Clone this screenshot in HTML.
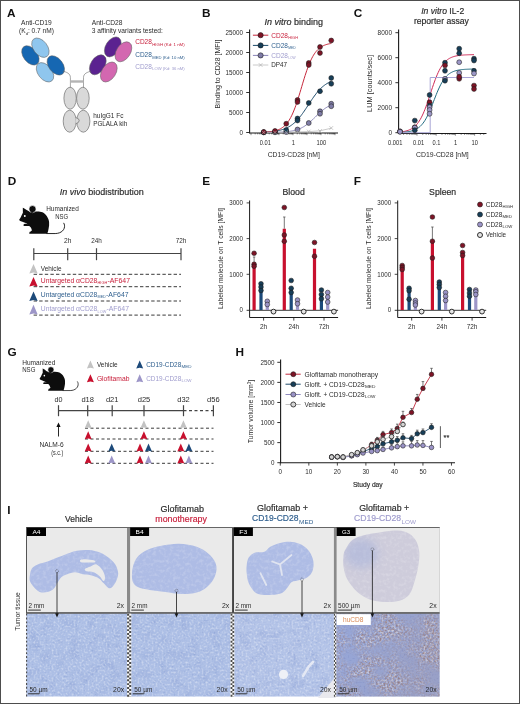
<!DOCTYPE html>
<html><head><meta charset="utf-8"><title>Figure</title>
<style>
html,body{margin:0;padding:0;background:#fff;}
body{width:520px;height:704px;overflow:hidden;}
svg{display:block;font-family:"Liberation Sans", sans-serif;filter:blur(0.3px);}
text{stroke-width:0.18px;paint-order:stroke;}
</style></head><body>
<svg width="520" height="704" viewBox="0 0 520 704">
<rect x="0" y="0" width="520" height="704" fill="#fff"/>
<text x="7.00" y="16.50" font-size="11.8" fill="#111" font-weight="bold">A</text>
<text x="201.90" y="16.60" font-size="11.8" fill="#111" font-weight="bold">B</text>
<text x="353.80" y="16.90" font-size="11.8" fill="#111" font-weight="bold">C</text>
<text x="7.70" y="185.00" font-size="11.8" fill="#111" font-weight="bold">D</text>
<text x="202.30" y="185.00" font-size="11.8" fill="#111" font-weight="bold">E</text>
<text x="353.80" y="185.00" font-size="11.8" fill="#111" font-weight="bold">F</text>
<text x="7.40" y="356.20" font-size="11.8" fill="#111" font-weight="bold">G</text>
<text x="235.40" y="356.20" font-size="11.8" fill="#111" font-weight="bold">H</text>
<text x="7.30" y="513.80" font-size="11.8" fill="#111" font-weight="bold">I</text>
<text x="36.40" y="25.40" font-size="6.6" fill="#2b2b2b" text-anchor="middle" textLength="30.7" lengthAdjust="spacingAndGlyphs">Anti-CD19</text>
<text x="36.50" y="33.30" font-size="6.6" fill="#2b2b2b" text-anchor="middle">(K<tspan font-size="4" dy="1.2">d</tspan><tspan dy="-1.2">: 0.7 nM)</tspan></text>
<text x="91.70" y="25.40" font-size="6.6" fill="#2b2b2b" textLength="30.8" lengthAdjust="spacingAndGlyphs">Anti-CD28</text>
<text x="91.70" y="33.00" font-size="6.6" fill="#2b2b2b" textLength="71.2" lengthAdjust="spacingAndGlyphs">3 affinity variants tested:</text>
<text x="135.20" y="44.20" font-size="6.6" fill="#c8203c" textLength="16.7" lengthAdjust="spacingAndGlyphs">CD28</text>
<text x="152.20" y="45.80" font-size="3.3" fill="#c8203c" textLength="32.5" lengthAdjust="spacingAndGlyphs">HIGH (Kd: 1 nM)</text>
<text x="135.20" y="56.90" font-size="6.6" fill="#2f5f8e" textLength="16.7" lengthAdjust="spacingAndGlyphs">CD28</text>
<text x="152.20" y="58.50" font-size="3.3" fill="#2f5f8e" textLength="32.5" lengthAdjust="spacingAndGlyphs">MED (Kd: 10 nM)</text>
<text x="135.20" y="68.70" font-size="6.6" fill="#9f9ccd" textLength="16.7" lengthAdjust="spacingAndGlyphs">CD28</text>
<text x="152.20" y="70.30" font-size="3.3" fill="#9f9ccd" textLength="32.5" lengthAdjust="spacingAndGlyphs">LOW (Kd: 36 nM)</text>
<ellipse cx="0" cy="0" rx="11" ry="7" transform="translate(30.40,55.40) rotate(52)" fill="#1667b2" stroke="#5e5e5e" stroke-width="0.5"/>
<ellipse cx="0" cy="0" rx="11" ry="7" transform="translate(40.40,47.70) rotate(52)" fill="#8fc6ee" stroke="#5e5e5e" stroke-width="0.5"/>
<ellipse cx="0" cy="0" rx="11" ry="7" transform="translate(45.00,72.30) rotate(52)" fill="#8fc6ee" stroke="#5e5e5e" stroke-width="0.5"/>
<ellipse cx="0" cy="0" rx="11" ry="7" transform="translate(55.80,65.40) rotate(52)" fill="#1667b2" stroke="#5e5e5e" stroke-width="0.5"/>
<ellipse cx="0" cy="0" rx="11" ry="7" transform="translate(112.80,46.90) rotate(-57)" fill="#5b2290" stroke="#5e5e5e" stroke-width="0.5"/>
<ellipse cx="0" cy="0" rx="11" ry="7" transform="translate(123.40,51.80) rotate(-57)" fill="#d367b0" stroke="#5e5e5e" stroke-width="0.5"/>
<ellipse cx="0" cy="0" rx="11" ry="7" transform="translate(97.80,64.80) rotate(-57)" fill="#5b2290" stroke="#5e5e5e" stroke-width="0.5"/>
<ellipse cx="0" cy="0" rx="11" ry="7" transform="translate(108.80,72.00) rotate(-57)" fill="#d367b0" stroke="#5e5e5e" stroke-width="0.5"/>
<path d="M62.7,71.2 C66.5,72 70.4,73.5 70.4,77.5 L70.4,88" fill="none" stroke="#6b6b6b" stroke-width="0.6"/>
<path d="M91.3,71.2 C87.5,72 83.5,73.5 83.5,77.5 L83.5,88" fill="none" stroke="#6b6b6b" stroke-width="0.6"/>
<rect x="70.4" y="80.3" width="13.1" height="2.4" fill="#b4b4b4"/>
<ellipse cx="70.1" cy="98.2" rx="6.2" ry="11" fill="#d9d9d9" stroke="#6e6e6e" stroke-width="0.7"/>
<ellipse cx="82.9" cy="98.2" rx="6.3" ry="11" fill="#d9d9d9" stroke="#6e6e6e" stroke-width="0.7"/>
<ellipse cx="69.7" cy="121.2" rx="6.5" ry="11" fill="#d9d9d9" stroke="#6e6e6e" stroke-width="0.7"/>
<ellipse cx="83.3" cy="121.2" rx="6.6" ry="11" fill="#d9d9d9" stroke="#6e6e6e" stroke-width="0.7"/>
<path d="M75.6,117.5 Q79.5,118.6 79.2,120.6 Q79.3,122.6 75.8,123.8" fill="#d9d9d9" stroke="#6e6e6e" stroke-width="0.7"/>
<text x="93.20" y="118.00" font-size="6.6" fill="#2b2b2b" textLength="30.2" lengthAdjust="spacingAndGlyphs">huIgG1 Fc</text>
<text x="93.20" y="126.00" font-size="6.6" fill="#2b2b2b" textLength="34.1" lengthAdjust="spacingAndGlyphs">PGLALA kih</text>
<text x="264.60" y="24.60" font-size="8.6" fill="#2b2b2b" stroke="#2b2b2b" textLength="58.4" lengthAdjust="spacingAndGlyphs"><tspan font-style="italic">In vitro</tspan> binding</text>
<line x1="249.60" y1="29.50" x2="249.60" y2="133.50" stroke="#1a1a1a" stroke-width="1.1"/>
<line x1="246.20" y1="132.50" x2="249.60" y2="132.50" stroke="#1a1a1a" stroke-width="0.9"/>
<text x="243.00" y="134.80" font-size="6.6" fill="#2b2b2b" text-anchor="end" textLength="3.5" lengthAdjust="spacingAndGlyphs">0</text>
<line x1="246.20" y1="112.50" x2="249.60" y2="112.50" stroke="#1a1a1a" stroke-width="0.9"/>
<text x="243.00" y="114.80" font-size="6.6" fill="#2b2b2b" text-anchor="end" textLength="14.0" lengthAdjust="spacingAndGlyphs">5000</text>
<line x1="246.20" y1="92.50" x2="249.60" y2="92.50" stroke="#1a1a1a" stroke-width="0.9"/>
<text x="243.00" y="94.80" font-size="6.6" fill="#2b2b2b" text-anchor="end" textLength="17.5" lengthAdjust="spacingAndGlyphs">10000</text>
<line x1="246.20" y1="72.50" x2="249.60" y2="72.50" stroke="#1a1a1a" stroke-width="0.9"/>
<text x="243.00" y="74.80" font-size="6.6" fill="#2b2b2b" text-anchor="end" textLength="17.5" lengthAdjust="spacingAndGlyphs">15000</text>
<line x1="246.20" y1="52.50" x2="249.60" y2="52.50" stroke="#1a1a1a" stroke-width="0.9"/>
<text x="243.00" y="54.80" font-size="6.6" fill="#2b2b2b" text-anchor="end" textLength="17.5" lengthAdjust="spacingAndGlyphs">20000</text>
<line x1="246.20" y1="32.50" x2="249.60" y2="32.50" stroke="#1a1a1a" stroke-width="0.9"/>
<text x="243.00" y="34.80" font-size="6.6" fill="#2b2b2b" text-anchor="end" textLength="17.5" lengthAdjust="spacingAndGlyphs">25000</text>
<line x1="249.60" y1="133.00" x2="338.00" y2="133.00" stroke="#1a1a1a" stroke-width="1.1"/>
<line x1="251.00" y1="133.00" x2="251.00" y2="135.20" stroke="#1a1a1a" stroke-width="0.5"/>
<line x1="255.21" y1="133.00" x2="255.21" y2="134.40" stroke="#1a1a1a" stroke-width="0.5"/>
<line x1="257.68" y1="133.00" x2="257.68" y2="134.40" stroke="#1a1a1a" stroke-width="0.5"/>
<line x1="259.43" y1="133.00" x2="259.43" y2="134.40" stroke="#1a1a1a" stroke-width="0.5"/>
<line x1="260.79" y1="133.00" x2="260.79" y2="134.40" stroke="#1a1a1a" stroke-width="0.5"/>
<line x1="261.89" y1="133.00" x2="261.89" y2="134.40" stroke="#1a1a1a" stroke-width="0.5"/>
<line x1="262.83" y1="133.00" x2="262.83" y2="134.40" stroke="#1a1a1a" stroke-width="0.5"/>
<line x1="263.64" y1="133.00" x2="263.64" y2="134.40" stroke="#1a1a1a" stroke-width="0.5"/>
<line x1="264.36" y1="133.00" x2="264.36" y2="134.40" stroke="#1a1a1a" stroke-width="0.5"/>
<line x1="265.00" y1="133.00" x2="265.00" y2="135.20" stroke="#1a1a1a" stroke-width="0.5"/>
<line x1="269.21" y1="133.00" x2="269.21" y2="134.40" stroke="#1a1a1a" stroke-width="0.5"/>
<line x1="271.68" y1="133.00" x2="271.68" y2="134.40" stroke="#1a1a1a" stroke-width="0.5"/>
<line x1="273.43" y1="133.00" x2="273.43" y2="134.40" stroke="#1a1a1a" stroke-width="0.5"/>
<line x1="274.79" y1="133.00" x2="274.79" y2="134.40" stroke="#1a1a1a" stroke-width="0.5"/>
<line x1="275.89" y1="133.00" x2="275.89" y2="134.40" stroke="#1a1a1a" stroke-width="0.5"/>
<line x1="276.83" y1="133.00" x2="276.83" y2="134.40" stroke="#1a1a1a" stroke-width="0.5"/>
<line x1="277.64" y1="133.00" x2="277.64" y2="134.40" stroke="#1a1a1a" stroke-width="0.5"/>
<line x1="278.36" y1="133.00" x2="278.36" y2="134.40" stroke="#1a1a1a" stroke-width="0.5"/>
<line x1="279.00" y1="133.00" x2="279.00" y2="135.20" stroke="#1a1a1a" stroke-width="0.5"/>
<line x1="283.21" y1="133.00" x2="283.21" y2="134.40" stroke="#1a1a1a" stroke-width="0.5"/>
<line x1="285.68" y1="133.00" x2="285.68" y2="134.40" stroke="#1a1a1a" stroke-width="0.5"/>
<line x1="287.43" y1="133.00" x2="287.43" y2="134.40" stroke="#1a1a1a" stroke-width="0.5"/>
<line x1="288.79" y1="133.00" x2="288.79" y2="134.40" stroke="#1a1a1a" stroke-width="0.5"/>
<line x1="289.89" y1="133.00" x2="289.89" y2="134.40" stroke="#1a1a1a" stroke-width="0.5"/>
<line x1="290.83" y1="133.00" x2="290.83" y2="134.40" stroke="#1a1a1a" stroke-width="0.5"/>
<line x1="291.64" y1="133.00" x2="291.64" y2="134.40" stroke="#1a1a1a" stroke-width="0.5"/>
<line x1="292.36" y1="133.00" x2="292.36" y2="134.40" stroke="#1a1a1a" stroke-width="0.5"/>
<line x1="293.00" y1="133.00" x2="293.00" y2="135.20" stroke="#1a1a1a" stroke-width="0.5"/>
<line x1="297.21" y1="133.00" x2="297.21" y2="134.40" stroke="#1a1a1a" stroke-width="0.5"/>
<line x1="299.68" y1="133.00" x2="299.68" y2="134.40" stroke="#1a1a1a" stroke-width="0.5"/>
<line x1="301.43" y1="133.00" x2="301.43" y2="134.40" stroke="#1a1a1a" stroke-width="0.5"/>
<line x1="302.79" y1="133.00" x2="302.79" y2="134.40" stroke="#1a1a1a" stroke-width="0.5"/>
<line x1="303.89" y1="133.00" x2="303.89" y2="134.40" stroke="#1a1a1a" stroke-width="0.5"/>
<line x1="304.83" y1="133.00" x2="304.83" y2="134.40" stroke="#1a1a1a" stroke-width="0.5"/>
<line x1="305.64" y1="133.00" x2="305.64" y2="134.40" stroke="#1a1a1a" stroke-width="0.5"/>
<line x1="306.36" y1="133.00" x2="306.36" y2="134.40" stroke="#1a1a1a" stroke-width="0.5"/>
<line x1="307.00" y1="133.00" x2="307.00" y2="135.20" stroke="#1a1a1a" stroke-width="0.5"/>
<line x1="311.21" y1="133.00" x2="311.21" y2="134.40" stroke="#1a1a1a" stroke-width="0.5"/>
<line x1="313.68" y1="133.00" x2="313.68" y2="134.40" stroke="#1a1a1a" stroke-width="0.5"/>
<line x1="315.43" y1="133.00" x2="315.43" y2="134.40" stroke="#1a1a1a" stroke-width="0.5"/>
<line x1="316.79" y1="133.00" x2="316.79" y2="134.40" stroke="#1a1a1a" stroke-width="0.5"/>
<line x1="317.89" y1="133.00" x2="317.89" y2="134.40" stroke="#1a1a1a" stroke-width="0.5"/>
<line x1="318.83" y1="133.00" x2="318.83" y2="134.40" stroke="#1a1a1a" stroke-width="0.5"/>
<line x1="319.64" y1="133.00" x2="319.64" y2="134.40" stroke="#1a1a1a" stroke-width="0.5"/>
<line x1="320.36" y1="133.00" x2="320.36" y2="134.40" stroke="#1a1a1a" stroke-width="0.5"/>
<line x1="321.00" y1="133.00" x2="321.00" y2="135.20" stroke="#1a1a1a" stroke-width="0.5"/>
<line x1="325.21" y1="133.00" x2="325.21" y2="134.40" stroke="#1a1a1a" stroke-width="0.5"/>
<line x1="327.68" y1="133.00" x2="327.68" y2="134.40" stroke="#1a1a1a" stroke-width="0.5"/>
<line x1="329.43" y1="133.00" x2="329.43" y2="134.40" stroke="#1a1a1a" stroke-width="0.5"/>
<line x1="330.79" y1="133.00" x2="330.79" y2="134.40" stroke="#1a1a1a" stroke-width="0.5"/>
<line x1="331.89" y1="133.00" x2="331.89" y2="134.40" stroke="#1a1a1a" stroke-width="0.5"/>
<line x1="332.83" y1="133.00" x2="332.83" y2="134.40" stroke="#1a1a1a" stroke-width="0.5"/>
<line x1="333.64" y1="133.00" x2="333.64" y2="134.40" stroke="#1a1a1a" stroke-width="0.5"/>
<line x1="334.36" y1="133.00" x2="334.36" y2="134.40" stroke="#1a1a1a" stroke-width="0.5"/>
<line x1="335.00" y1="133.00" x2="335.00" y2="135.20" stroke="#1a1a1a" stroke-width="0.5"/>
<text x="265.30" y="144.60" font-size="6.9" fill="#2b2b2b" text-anchor="middle" textLength="11.100000000000001" lengthAdjust="spacingAndGlyphs">0.01</text>
<text x="293.30" y="144.60" font-size="6.9" fill="#2b2b2b" text-anchor="middle" textLength="3.2" lengthAdjust="spacingAndGlyphs">1</text>
<text x="321.30" y="144.60" font-size="6.9" fill="#2b2b2b" text-anchor="middle" textLength="9.600000000000001" lengthAdjust="spacingAndGlyphs">100</text>
<text x="293.80" y="157.00" font-size="6.9" fill="#2b2b2b" text-anchor="middle" textLength="52.3" lengthAdjust="spacingAndGlyphs">CD19-CD28 [nM]</text>
<text transform="translate(220.15,74.00) rotate(-90)" font-size="7.0" fill="#2b2b2b" text-anchor="middle" textLength="69" lengthAdjust="spacingAndGlyphs">Binding to CD28 [MFI]</text>
<path d="M263.75,132.45L264.59,132.45L265.44,132.44L266.28,132.44L267.12,132.43L267.97,132.42L268.81,132.41L269.66,132.40L270.50,132.39L271.34,132.38L272.19,132.37L273.03,132.35L273.88,132.34L274.72,132.32L275.56,132.30L276.41,132.27L277.25,132.25L278.09,132.22L278.94,132.19L279.78,132.15L280.62,132.12L281.47,132.07L282.31,132.03L283.16,131.97L284.00,131.92L284.84,131.85L285.69,131.78L286.53,131.70L287.38,131.61L288.22,131.52L289.06,131.41L289.91,131.29L290.75,131.16L291.59,131.02L292.44,130.86L293.28,130.69L294.12,130.50L294.97,130.29L295.81,130.06L296.66,129.81L297.50,129.54L298.34,129.24L299.19,128.92L300.03,128.57L300.88,128.19L301.72,127.77L302.56,127.33L303.41,126.86L304.25,126.35L305.09,125.80L305.94,125.23L306.78,124.62L307.62,123.97L308.47,123.30L309.31,122.59L310.16,121.86L311.00,121.10L311.84,120.32L312.69,119.52L313.53,118.70L314.38,117.88L315.22,117.05L316.06,116.22L316.91,115.40L317.75,114.58L318.59,113.77L319.44,112.99L320.28,112.22L321.12,111.48L321.97,110.76L322.81,110.07L323.66,109.42L324.50,108.79L325.34,108.21L326.19,107.65L327.03,107.13L327.88,106.64L328.72,106.19L329.56,105.76L330.41,105.37L331.25,105.01" fill="none" stroke="#8a86b8" stroke-width="1.0"/>
<path d="M263.75,132.12L264.59,132.08L265.44,132.04L266.28,131.99L267.12,131.94L267.97,131.89L268.81,131.83L269.66,131.76L270.50,131.69L271.34,131.61L272.19,131.53L273.03,131.43L273.88,131.33L274.72,131.22L275.56,131.10L276.41,130.96L277.25,130.81L278.09,130.65L278.94,130.48L279.78,130.29L280.62,130.08L281.47,129.85L282.31,129.61L283.16,129.34L284.00,129.05L284.84,128.73L285.69,128.38L286.53,128.01L287.38,127.61L288.22,127.18L289.06,126.71L289.91,126.20L290.75,125.66L291.59,125.08L292.44,124.45L293.28,123.79L294.12,123.08L294.97,122.32L295.81,121.52L296.66,120.67L297.50,119.77L298.34,118.83L299.19,117.84L300.03,116.81L300.88,115.74L301.72,114.62L302.56,113.47L303.41,112.29L304.25,111.07L305.09,109.83L305.94,108.57L306.78,107.29L307.62,106.00L308.47,104.71L309.31,103.42L310.16,102.14L311.00,100.87L311.84,99.61L312.69,98.38L313.53,97.17L314.38,96.00L315.22,94.86L316.06,93.77L316.91,92.71L317.75,91.69L318.59,90.72L319.44,89.80L320.28,88.92L321.12,88.09L321.97,87.31L322.81,86.57L323.66,85.87L324.50,85.22L325.34,84.62L326.19,84.05L327.03,83.52L327.88,83.03L328.72,82.58L329.56,82.15L330.41,81.76L331.25,81.40" fill="none" stroke="#1d4b6b" stroke-width="1.0"/>
<path d="M263.75,132.18L264.59,132.14L265.44,132.09L266.28,132.03L267.12,131.97L267.97,131.90L268.81,131.82L269.66,131.73L270.50,131.63L271.34,131.51L272.19,131.38L273.03,131.24L273.88,131.07L274.72,130.88L275.56,130.67L276.41,130.43L277.25,130.15L278.09,129.85L278.94,129.50L279.78,129.12L280.62,128.68L281.47,128.19L282.31,127.64L283.16,127.03L284.00,126.35L284.84,125.58L285.69,124.73L286.53,123.79L287.38,122.75L288.22,121.59L289.06,120.33L289.91,118.94L290.75,117.42L291.59,115.77L292.44,113.98L293.28,112.06L294.12,109.99L294.97,107.80L295.81,105.48L296.66,103.03L297.50,100.48L298.34,97.83L299.19,95.10L300.03,92.32L300.88,89.50L301.72,86.66L302.56,83.83L303.41,81.02L304.25,78.27L305.09,75.58L305.94,72.99L306.78,70.49L307.62,68.12L308.47,65.86L309.31,63.74L310.16,61.76L311.00,59.91L311.84,58.20L312.69,56.62L313.53,55.18L314.38,53.86L315.22,52.65L316.06,51.56L316.91,50.58L317.75,49.69L318.59,48.88L319.44,48.17L320.28,47.52L321.12,46.95L321.97,46.43L322.81,45.97L323.66,45.56L324.50,45.20L325.34,44.88L326.19,44.59L327.03,44.34L327.88,44.11L328.72,43.91L329.56,43.74L330.41,43.58L331.25,43.44" fill="none" stroke="#c6283c" stroke-width="1.0"/>
<path d="M263.75,132.4 L286,132.2 L309,131.6 L320,130.8 L331.25,128.2" fill="none" stroke="#bdbdbd" stroke-width="0.8"/>
<circle cx="263.75" cy="132.30" r="2.45" fill="#7f7ca6" stroke="#1a1a1a" stroke-width="0.55"/>
<circle cx="275.00" cy="132.30" r="2.45" fill="#7f7ca6" stroke="#1a1a1a" stroke-width="0.55"/>
<circle cx="286.25" cy="132.00" r="2.45" fill="#7f7ca6" stroke="#1a1a1a" stroke-width="0.55"/>
<circle cx="297.50" cy="129.50" r="2.45" fill="#7f7ca6" stroke="#1a1a1a" stroke-width="0.55"/>
<circle cx="308.75" cy="123.00" r="2.45" fill="#7f7ca6" stroke="#1a1a1a" stroke-width="0.55"/>
<circle cx="320.00" cy="111.25" r="2.45" fill="#7f7ca6" stroke="#1a1a1a" stroke-width="0.55"/>
<circle cx="320.00" cy="113.75" r="2.45" fill="#7f7ca6" stroke="#1a1a1a" stroke-width="0.55"/>
<circle cx="331.25" cy="103.75" r="2.45" fill="#7f7ca6" stroke="#1a1a1a" stroke-width="0.55"/>
<circle cx="331.25" cy="106.25" r="2.45" fill="#7f7ca6" stroke="#1a1a1a" stroke-width="0.55"/>
<circle cx="263.75" cy="132.30" r="2.45" fill="#173e58" stroke="#1a1a1a" stroke-width="0.55"/>
<circle cx="275.00" cy="131.50" r="2.45" fill="#173e58" stroke="#1a1a1a" stroke-width="0.55"/>
<circle cx="286.25" cy="130.00" r="2.45" fill="#173e58" stroke="#1a1a1a" stroke-width="0.55"/>
<circle cx="297.50" cy="118.50" r="2.45" fill="#173e58" stroke="#1a1a1a" stroke-width="0.55"/>
<circle cx="297.50" cy="120.50" r="2.45" fill="#173e58" stroke="#1a1a1a" stroke-width="0.55"/>
<circle cx="308.75" cy="103.00" r="2.45" fill="#173e58" stroke="#1a1a1a" stroke-width="0.55"/>
<circle cx="320.00" cy="91.25" r="2.45" fill="#173e58" stroke="#1a1a1a" stroke-width="0.55"/>
<circle cx="331.25" cy="78.00" r="2.45" fill="#173e58" stroke="#1a1a1a" stroke-width="0.55"/>
<circle cx="331.25" cy="83.75" r="2.45" fill="#173e58" stroke="#1a1a1a" stroke-width="0.55"/>
<circle cx="263.75" cy="132.00" r="2.45" fill="#7d1426" stroke="#1a1a1a" stroke-width="0.55"/>
<circle cx="275.00" cy="131.00" r="2.45" fill="#7d1426" stroke="#1a1a1a" stroke-width="0.55"/>
<circle cx="286.25" cy="123.75" r="2.45" fill="#7d1426" stroke="#1a1a1a" stroke-width="0.55"/>
<circle cx="297.50" cy="100.00" r="2.45" fill="#7d1426" stroke="#1a1a1a" stroke-width="0.55"/>
<circle cx="297.50" cy="102.00" r="2.45" fill="#7d1426" stroke="#1a1a1a" stroke-width="0.55"/>
<circle cx="308.75" cy="63.00" r="2.45" fill="#7d1426" stroke="#1a1a1a" stroke-width="0.55"/>
<circle cx="308.75" cy="65.00" r="2.45" fill="#7d1426" stroke="#1a1a1a" stroke-width="0.55"/>
<circle cx="320.00" cy="47.00" r="2.45" fill="#7d1426" stroke="#1a1a1a" stroke-width="0.55"/>
<circle cx="320.00" cy="53.00" r="2.45" fill="#7d1426" stroke="#1a1a1a" stroke-width="0.55"/>
<circle cx="331.25" cy="40.50" r="2.45" fill="#7d1426" stroke="#1a1a1a" stroke-width="0.55"/>
<line x1="261.95" y1="130.70" x2="265.55" y2="134.30" stroke="#b0b0b0" stroke-width="0.7"/>
<line x1="261.95" y1="134.30" x2="265.55" y2="130.70" stroke="#b0b0b0" stroke-width="0.7"/>
<line x1="273.20" y1="130.70" x2="276.80" y2="134.30" stroke="#b0b0b0" stroke-width="0.7"/>
<line x1="273.20" y1="134.30" x2="276.80" y2="130.70" stroke="#b0b0b0" stroke-width="0.7"/>
<line x1="284.45" y1="130.50" x2="288.05" y2="134.10" stroke="#b0b0b0" stroke-width="0.7"/>
<line x1="284.45" y1="134.10" x2="288.05" y2="130.50" stroke="#b0b0b0" stroke-width="0.7"/>
<line x1="295.70" y1="130.20" x2="299.30" y2="133.80" stroke="#b0b0b0" stroke-width="0.7"/>
<line x1="295.70" y1="133.80" x2="299.30" y2="130.20" stroke="#b0b0b0" stroke-width="0.7"/>
<line x1="306.95" y1="129.70" x2="310.55" y2="133.30" stroke="#b0b0b0" stroke-width="0.7"/>
<line x1="306.95" y1="133.30" x2="310.55" y2="129.70" stroke="#b0b0b0" stroke-width="0.7"/>
<line x1="318.20" y1="129.20" x2="321.80" y2="132.80" stroke="#b0b0b0" stroke-width="0.7"/>
<line x1="318.20" y1="132.80" x2="321.80" y2="129.20" stroke="#b0b0b0" stroke-width="0.7"/>
<line x1="329.45" y1="126.20" x2="333.05" y2="129.80" stroke="#b0b0b0" stroke-width="0.7"/>
<line x1="329.45" y1="129.80" x2="333.05" y2="126.20" stroke="#b0b0b0" stroke-width="0.7"/>
<line x1="252.90" y1="35.20" x2="268.30" y2="35.20" stroke="#c6283c" stroke-width="1.0"/>
<circle cx="260.60" cy="35.20" r="2.6" fill="#7d1426" stroke="#1a1a1a" stroke-width="0.55"/>
<text x="271.30" y="37.60" font-size="6.7" fill="#c8203c" textLength="16.7" lengthAdjust="spacingAndGlyphs">CD28</text>
<text x="288.20" y="38.80" font-size="3.4" fill="#c8203c" textLength="9.8" lengthAdjust="spacingAndGlyphs">HIGH</text>
<line x1="252.90" y1="45.40" x2="268.30" y2="45.40" stroke="#1d4b6b" stroke-width="1.0"/>
<circle cx="260.60" cy="45.40" r="2.6" fill="#173e58" stroke="#1a1a1a" stroke-width="0.55"/>
<text x="271.30" y="47.80" font-size="6.7" fill="#2f5f8e" textLength="16.7" lengthAdjust="spacingAndGlyphs">CD28</text>
<text x="288.20" y="49.00" font-size="3.4" fill="#2f5f8e" textLength="7.3500000000000005" lengthAdjust="spacingAndGlyphs">MED</text>
<line x1="252.90" y1="55.40" x2="268.30" y2="55.40" stroke="#8a86b8" stroke-width="1.0"/>
<circle cx="260.60" cy="55.40" r="2.6" fill="#7f7ca6" stroke="#1a1a1a" stroke-width="0.55"/>
<text x="271.30" y="57.80" font-size="6.7" fill="#9f9ccd" textLength="16.7" lengthAdjust="spacingAndGlyphs">CD28</text>
<text x="288.20" y="59.00" font-size="3.4" fill="#9f9ccd" textLength="7.3500000000000005" lengthAdjust="spacingAndGlyphs">LOW</text>
<line x1="252.90" y1="65.00" x2="268.30" y2="65.00" stroke="#c4c4c4" stroke-width="0.9"/>
<line x1="258.80" y1="63.20" x2="262.40" y2="66.80" stroke="#b0b0b0" stroke-width="0.7"/>
<line x1="258.80" y1="66.80" x2="262.40" y2="63.20" stroke="#b0b0b0" stroke-width="0.7"/>
<text x="271.30" y="67.40" font-size="6.7" fill="#2b2b2b" textLength="15.8" lengthAdjust="spacingAndGlyphs">DP47</text>
<text x="442.70" y="13.50" font-size="8.6" fill="#2b2b2b" stroke="#2b2b2b" text-anchor="middle" textLength="43.0" lengthAdjust="spacingAndGlyphs"><tspan font-style="italic">In vitro</tspan> IL-2</text>
<text x="441.40" y="23.90" font-size="8.6" fill="#2b2b2b" stroke="#2b2b2b" text-anchor="middle" textLength="55.0" lengthAdjust="spacingAndGlyphs">reporter assay</text>
<line x1="398.60" y1="29.50" x2="398.60" y2="134.00" stroke="#1a1a1a" stroke-width="1.1"/>
<line x1="395.40" y1="132.70" x2="398.60" y2="132.70" stroke="#1a1a1a" stroke-width="0.9"/>
<text x="392.00" y="135.00" font-size="6.6" fill="#2b2b2b" text-anchor="end" textLength="3.6" lengthAdjust="spacingAndGlyphs">0</text>
<line x1="395.40" y1="107.70" x2="398.60" y2="107.70" stroke="#1a1a1a" stroke-width="0.9"/>
<text x="392.00" y="110.00" font-size="6.6" fill="#2b2b2b" text-anchor="end" textLength="14.4" lengthAdjust="spacingAndGlyphs">2000</text>
<line x1="395.40" y1="82.70" x2="398.60" y2="82.70" stroke="#1a1a1a" stroke-width="0.9"/>
<text x="392.00" y="85.00" font-size="6.6" fill="#2b2b2b" text-anchor="end" textLength="14.4" lengthAdjust="spacingAndGlyphs">4000</text>
<line x1="395.40" y1="57.70" x2="398.60" y2="57.70" stroke="#1a1a1a" stroke-width="0.9"/>
<text x="392.00" y="60.00" font-size="6.6" fill="#2b2b2b" text-anchor="end" textLength="14.4" lengthAdjust="spacingAndGlyphs">6000</text>
<line x1="395.40" y1="32.70" x2="398.60" y2="32.70" stroke="#1a1a1a" stroke-width="0.9"/>
<text x="392.00" y="35.00" font-size="6.6" fill="#2b2b2b" text-anchor="end" textLength="14.4" lengthAdjust="spacingAndGlyphs">8000</text>
<line x1="398.60" y1="133.50" x2="486.50" y2="133.50" stroke="#1a1a1a" stroke-width="1.1"/>
<line x1="403.58" y1="133.50" x2="403.58" y2="134.90" stroke="#1a1a1a" stroke-width="0.5"/>
<line x1="406.96" y1="133.50" x2="406.96" y2="134.90" stroke="#1a1a1a" stroke-width="0.5"/>
<line x1="409.36" y1="133.50" x2="409.36" y2="134.90" stroke="#1a1a1a" stroke-width="0.5"/>
<line x1="411.22" y1="133.50" x2="411.22" y2="134.90" stroke="#1a1a1a" stroke-width="0.5"/>
<line x1="412.74" y1="133.50" x2="412.74" y2="134.90" stroke="#1a1a1a" stroke-width="0.5"/>
<line x1="414.03" y1="133.50" x2="414.03" y2="134.90" stroke="#1a1a1a" stroke-width="0.5"/>
<line x1="415.14" y1="133.50" x2="415.14" y2="134.90" stroke="#1a1a1a" stroke-width="0.5"/>
<line x1="416.12" y1="133.50" x2="416.12" y2="134.90" stroke="#1a1a1a" stroke-width="0.5"/>
<line x1="417.00" y1="133.50" x2="417.00" y2="135.70" stroke="#1a1a1a" stroke-width="0.5"/>
<line x1="422.78" y1="133.50" x2="422.78" y2="134.90" stroke="#1a1a1a" stroke-width="0.5"/>
<line x1="426.16" y1="133.50" x2="426.16" y2="134.90" stroke="#1a1a1a" stroke-width="0.5"/>
<line x1="428.56" y1="133.50" x2="428.56" y2="134.90" stroke="#1a1a1a" stroke-width="0.5"/>
<line x1="430.42" y1="133.50" x2="430.42" y2="134.90" stroke="#1a1a1a" stroke-width="0.5"/>
<line x1="431.94" y1="133.50" x2="431.94" y2="134.90" stroke="#1a1a1a" stroke-width="0.5"/>
<line x1="433.23" y1="133.50" x2="433.23" y2="134.90" stroke="#1a1a1a" stroke-width="0.5"/>
<line x1="434.34" y1="133.50" x2="434.34" y2="134.90" stroke="#1a1a1a" stroke-width="0.5"/>
<line x1="435.32" y1="133.50" x2="435.32" y2="134.90" stroke="#1a1a1a" stroke-width="0.5"/>
<line x1="436.20" y1="133.50" x2="436.20" y2="135.70" stroke="#1a1a1a" stroke-width="0.5"/>
<line x1="441.98" y1="133.50" x2="441.98" y2="134.90" stroke="#1a1a1a" stroke-width="0.5"/>
<line x1="445.36" y1="133.50" x2="445.36" y2="134.90" stroke="#1a1a1a" stroke-width="0.5"/>
<line x1="447.76" y1="133.50" x2="447.76" y2="134.90" stroke="#1a1a1a" stroke-width="0.5"/>
<line x1="449.62" y1="133.50" x2="449.62" y2="134.90" stroke="#1a1a1a" stroke-width="0.5"/>
<line x1="451.14" y1="133.50" x2="451.14" y2="134.90" stroke="#1a1a1a" stroke-width="0.5"/>
<line x1="452.43" y1="133.50" x2="452.43" y2="134.90" stroke="#1a1a1a" stroke-width="0.5"/>
<line x1="453.54" y1="133.50" x2="453.54" y2="134.90" stroke="#1a1a1a" stroke-width="0.5"/>
<line x1="454.52" y1="133.50" x2="454.52" y2="134.90" stroke="#1a1a1a" stroke-width="0.5"/>
<line x1="455.40" y1="133.50" x2="455.40" y2="135.70" stroke="#1a1a1a" stroke-width="0.5"/>
<line x1="461.18" y1="133.50" x2="461.18" y2="134.90" stroke="#1a1a1a" stroke-width="0.5"/>
<line x1="464.56" y1="133.50" x2="464.56" y2="134.90" stroke="#1a1a1a" stroke-width="0.5"/>
<line x1="466.96" y1="133.50" x2="466.96" y2="134.90" stroke="#1a1a1a" stroke-width="0.5"/>
<line x1="468.82" y1="133.50" x2="468.82" y2="134.90" stroke="#1a1a1a" stroke-width="0.5"/>
<line x1="470.34" y1="133.50" x2="470.34" y2="134.90" stroke="#1a1a1a" stroke-width="0.5"/>
<line x1="471.63" y1="133.50" x2="471.63" y2="134.90" stroke="#1a1a1a" stroke-width="0.5"/>
<line x1="472.74" y1="133.50" x2="472.74" y2="134.90" stroke="#1a1a1a" stroke-width="0.5"/>
<line x1="473.72" y1="133.50" x2="473.72" y2="134.90" stroke="#1a1a1a" stroke-width="0.5"/>
<line x1="474.60" y1="133.50" x2="474.60" y2="135.70" stroke="#1a1a1a" stroke-width="0.5"/>
<line x1="480.38" y1="133.50" x2="480.38" y2="134.90" stroke="#1a1a1a" stroke-width="0.5"/>
<line x1="483.76" y1="133.50" x2="483.76" y2="134.90" stroke="#1a1a1a" stroke-width="0.5"/>
<text x="395.20" y="144.80" font-size="6.9" fill="#2b2b2b" text-anchor="middle" textLength="14.3" lengthAdjust="spacingAndGlyphs">0.001</text>
<text x="418.60" y="144.80" font-size="6.9" fill="#2b2b2b" text-anchor="middle" textLength="11.100000000000001" lengthAdjust="spacingAndGlyphs">0.01</text>
<text x="436.40" y="144.80" font-size="6.9" fill="#2b2b2b" text-anchor="middle" textLength="7.9" lengthAdjust="spacingAndGlyphs">0.1</text>
<text x="455.60" y="144.80" font-size="6.9" fill="#2b2b2b" text-anchor="middle" textLength="3.2" lengthAdjust="spacingAndGlyphs">1</text>
<text x="474.80" y="144.80" font-size="6.9" fill="#2b2b2b" text-anchor="middle" textLength="6.4" lengthAdjust="spacingAndGlyphs">10</text>
<text x="442.40" y="157.00" font-size="6.9" fill="#2b2b2b" text-anchor="middle" textLength="52.8" lengthAdjust="spacingAndGlyphs">CD19-CD28 [nM]</text>
<text transform="translate(371.92,83.40) rotate(-90)" font-size="7.2" fill="#2b2b2b" text-anchor="middle" textLength="57" lengthAdjust="spacingAndGlyphs">LUM [counts/sec]</text>
<path d="M398.50,132.16L399.44,132.08L400.39,131.98L401.33,131.87L402.27,131.74L403.22,131.59L404.16,131.42L405.11,131.22L406.05,130.99L406.99,130.73L407.94,130.42L408.88,130.07L409.82,129.67L410.77,129.21L411.71,128.69L412.66,128.09L413.60,127.41L414.54,126.64L415.49,125.76L416.43,124.77L417.38,123.66L418.32,122.42L419.26,121.03L420.21,119.49L421.15,117.80L422.09,115.94L423.04,113.93L423.98,111.75L424.93,109.42L425.87,106.94L426.81,104.34L427.76,101.63L428.70,98.84L429.64,96.00L430.59,93.13L431.53,90.26L432.48,87.43L433.42,84.67L434.36,82.00L435.31,79.44L436.25,77.01L437.19,74.74L438.14,72.62L439.08,70.65L440.02,68.86L440.97,67.22L441.91,65.74L442.86,64.40L443.80,63.21L444.74,62.14L445.69,61.19L446.63,60.35L447.57,59.61L448.52,58.96L449.46,58.39L450.41,57.89L451.35,57.45L452.29,57.07L453.24,56.74L454.18,56.45L455.12,56.20L456.07,55.98L457.01,55.79L457.96,55.63L458.90,55.49L459.84,55.36L460.79,55.26L461.73,55.16L462.68,55.08L463.62,55.01L464.56,54.95L465.51,54.90L466.45,54.86L467.39,54.82L468.34,54.79L469.28,54.76L470.23,54.73L471.17,54.71L472.11,54.69L473.06,54.68L474.00,54.66" fill="none" stroke="#cf2a57" stroke-width="1.0"/>
<path d="M398.50,132.49L399.44,132.46L400.39,132.42L401.33,132.37L402.27,132.32L403.22,132.25L404.16,132.18L405.11,132.09L406.05,131.99L406.99,131.88L407.94,131.75L408.88,131.59L409.82,131.41L410.77,131.20L411.71,130.96L412.66,130.69L413.60,130.37L414.54,130.00L415.49,129.57L416.43,129.09L417.38,128.53L418.32,127.89L419.26,127.17L420.21,126.35L421.15,125.42L422.09,124.37L423.04,123.20L423.98,121.90L424.93,120.46L425.87,118.88L426.81,117.15L427.76,115.29L428.70,113.29L429.64,111.16L430.59,108.94L431.53,106.62L432.48,104.23L433.42,101.81L434.36,99.38L435.31,96.96L436.25,94.59L437.19,92.28L438.14,90.07L439.08,87.97L440.02,86.00L440.97,84.16L441.91,82.46L442.86,80.91L443.80,79.49L444.74,78.22L445.69,77.07L446.63,76.05L447.57,75.14L448.52,74.34L449.46,73.63L450.41,73.01L451.35,72.47L452.29,71.99L453.24,71.58L454.18,71.22L455.12,70.91L456.07,70.64L457.01,70.40L457.96,70.20L458.90,70.03L459.84,69.88L460.79,69.75L461.73,69.64L462.68,69.54L463.62,69.46L464.56,69.39L465.51,69.32L466.45,69.27L467.39,69.23L468.34,69.19L469.28,69.15L470.23,69.12L471.17,69.10L472.11,69.08L473.06,69.06L474.00,69.04" fill="none" stroke="#1f6a80" stroke-width="1.0"/>
<path d="M399,132.7 L430.2,132.7 L430.2,77.5 L474,77.5" fill="none" stroke="#a9a5d6" stroke-width="1.0"/>
<circle cx="400.00" cy="131.40" r="2.45" fill="#173e58" stroke="#1a1a1a" stroke-width="0.55"/>
<circle cx="400.00" cy="131.40" r="2.45" fill="#7d1426" stroke="#1a1a1a" stroke-width="0.55"/>
<circle cx="400.00" cy="131.80" r="2.45" fill="#9d98c8" stroke="#1a1a1a" stroke-width="0.55"/>
<circle cx="414.80" cy="120.60" r="2.45" fill="#173e58" stroke="#1a1a1a" stroke-width="0.55"/>
<circle cx="414.80" cy="127.30" r="2.45" fill="#7d1426" stroke="#1a1a1a" stroke-width="0.55"/>
<circle cx="414.80" cy="127.60" r="2.45" fill="#9d98c8" stroke="#1a1a1a" stroke-width="0.55"/>
<circle cx="414.80" cy="130.20" r="2.45" fill="#173e58" stroke="#1a1a1a" stroke-width="0.55"/>
<circle cx="429.60" cy="95.00" r="2.45" fill="#173e58" stroke="#1a1a1a" stroke-width="0.55"/>
<circle cx="429.60" cy="102.30" r="2.45" fill="#7d1426" stroke="#1a1a1a" stroke-width="0.55"/>
<circle cx="429.60" cy="105.80" r="2.45" fill="#173e58" stroke="#1a1a1a" stroke-width="0.55"/>
<circle cx="429.60" cy="107.20" r="2.45" fill="#9d98c8" stroke="#1a1a1a" stroke-width="0.55"/>
<circle cx="429.60" cy="110.00" r="2.45" fill="#9d98c8" stroke="#1a1a1a" stroke-width="0.55"/>
<circle cx="429.60" cy="113.80" r="2.45" fill="#9d98c8" stroke="#1a1a1a" stroke-width="0.55"/>
<circle cx="445.00" cy="62.70" r="2.45" fill="#173e58" stroke="#1a1a1a" stroke-width="0.55"/>
<circle cx="445.00" cy="65.40" r="2.45" fill="#7d1426" stroke="#1a1a1a" stroke-width="0.55"/>
<circle cx="445.00" cy="70.80" r="2.45" fill="#173e58" stroke="#1a1a1a" stroke-width="0.55"/>
<circle cx="445.00" cy="78.80" r="2.45" fill="#9d98c8" stroke="#1a1a1a" stroke-width="0.55"/>
<circle cx="445.00" cy="80.70" r="2.45" fill="#173e58" stroke="#1a1a1a" stroke-width="0.55"/>
<circle cx="459.20" cy="48.70" r="2.45" fill="#173e58" stroke="#1a1a1a" stroke-width="0.55"/>
<circle cx="459.20" cy="53.30" r="2.45" fill="#173e58" stroke="#1a1a1a" stroke-width="0.55"/>
<circle cx="459.20" cy="62.20" r="2.45" fill="#9d98c8" stroke="#1a1a1a" stroke-width="0.55"/>
<circle cx="459.20" cy="72.90" r="2.45" fill="#9d98c8" stroke="#1a1a1a" stroke-width="0.55"/>
<circle cx="459.20" cy="78.80" r="2.45" fill="#7d1426" stroke="#1a1a1a" stroke-width="0.55"/>
<circle cx="459.20" cy="76.80" r="2.45" fill="#7d1426" stroke="#1a1a1a" stroke-width="0.55"/>
<circle cx="474.00" cy="58.70" r="2.45" fill="#173e58" stroke="#1a1a1a" stroke-width="0.55"/>
<circle cx="474.00" cy="60.50" r="2.45" fill="#173e58" stroke="#1a1a1a" stroke-width="0.55"/>
<circle cx="474.00" cy="70.80" r="2.45" fill="#173e58" stroke="#1a1a1a" stroke-width="0.55"/>
<circle cx="474.00" cy="73.50" r="2.45" fill="#9d98c8" stroke="#1a1a1a" stroke-width="0.55"/>
<circle cx="474.00" cy="85.60" r="2.45" fill="#7d1426" stroke="#1a1a1a" stroke-width="0.55"/>
<circle cx="474.00" cy="89.00" r="2.45" fill="#7d1426" stroke="#1a1a1a" stroke-width="0.55"/>
<g transform="translate(19.2,219.6) scale(1.0)">
<path d="M0,0 C0.8,-1.2 1.9,-2.6 2.1,-3.7 C2.6,-5 3.3,-6 3.7,-6.9 L3.6,-11.9 C5.2,-11.2 6.7,-10.3 7.4,-9.5 C8.5,-8.9 9.4,-8.4 10.05,-8.15 C10.8,-7.6 11.2,-7.3 11.64,-7.09 C13.5,-7.9 15,-8.2 16.93,-8.15 C19.5,-8.2 21.6,-8.1 23.28,-7.41 C25.2,-6.5 26.6,-5.2 27.51,-3.7 C29,-1.5 29.8,0.6 29.9,2.65 C30.1,5 29.9,7 29.42,8.99 C29.1,10.8 28.7,12.6 28.04,14.07 L10.05,14.07 C10,13.2 10.2,12.6 10.58,12.17 C11.2,11.5 12,11 12.7,10.58 C12.4,9.6 12.1,8.7 11.64,7.94 C11.2,7.2 10.6,6.7 10.05,6.35 L6.35,6.35 C5.4,6.3 4.6,6.2 4.23,5.82 C4.1,5.2 4.3,4.8 4.76,4.55 C5.4,4.3 6.1,4.2 6.88,4.23 L8.47,4.55 C7.6,3.9 6.7,3.5 5.82,3.17 C4.9,2.8 4,2.5 3.17,2.12 C2.2,1.8 1.2,1.5 0.53,1.06 Z" fill="#0d0d0d"/>
<circle cx="13.3" cy="-10.5" r="3.55" fill="#0d0d0d" stroke="#fff" stroke-width="0.6"/>
<path d="M11.3,-7.6 C12.3,-7.3 13.2,-7.4 14,-7.9" fill="none" stroke="#0d0d0d" stroke-width="1.2"/>
<circle cx="5.6" cy="-3.6" r="0.95" fill="#fff"/>
<path d="M27.6,13.95 L36,13.95 C39,13.9 41.6,13 43.3,11.3 C44.9,9.8 45.6,7.6 45.3,5.6 C45.2,4.8 44.9,4.1 44.6,3.6" fill="none" stroke="#0d0d0d" stroke-width="0.9" stroke-linecap="round"/>
<path d="M12.6,10.7 C11.5,11.2 10.8,11.9 10.5,12.6" fill="none" stroke="#fff" stroke-width="0.5"/>
</g>
<text x="59.80" y="195.00" font-size="8.8" fill="#2b2b2b" stroke="#2b2b2b" textLength="84" lengthAdjust="spacingAndGlyphs"><tspan font-style="italic">In vivo</tspan> biodistribution</text>
<text x="62.50" y="211.00" font-size="6.4" fill="#2b2b2b" text-anchor="middle" textLength="32.6" lengthAdjust="spacingAndGlyphs">Humanized</text>
<text x="61.60" y="218.70" font-size="6.4" fill="#2b2b2b" text-anchor="middle" textLength="12.9" lengthAdjust="spacingAndGlyphs">NSG</text>
<line x1="33.80" y1="253.50" x2="181.00" y2="253.50" stroke="#444" stroke-width="1.2"/>
<line x1="33.80" y1="248.20" x2="33.80" y2="260.20" stroke="#444" stroke-width="1.2"/>
<line x1="67.70" y1="248.20" x2="67.70" y2="260.20" stroke="#444" stroke-width="1.2"/>
<line x1="96.50" y1="248.20" x2="96.50" y2="260.20" stroke="#444" stroke-width="1.2"/>
<line x1="181.00" y1="248.20" x2="181.00" y2="260.20" stroke="#444" stroke-width="1.2"/>
<text x="67.80" y="243.10" font-size="6.7" fill="#2b2b2b" text-anchor="middle" textLength="7.4" lengthAdjust="spacingAndGlyphs">2h</text>
<text x="96.60" y="243.10" font-size="6.7" fill="#2b2b2b" text-anchor="middle" textLength="10.6" lengthAdjust="spacingAndGlyphs">24h</text>
<text x="181.00" y="243.10" font-size="6.7" fill="#2b2b2b" text-anchor="middle" textLength="10.6" lengthAdjust="spacingAndGlyphs">72h</text>
<line x1="33.60" y1="274.30" x2="181.00" y2="274.30" stroke="#3a3a3a" stroke-width="1.0" stroke-dasharray="3.4,2.2"/>
<path d="M33.50,264.00 L37.70,273.60 L33.50,272.60 L29.30,273.60 Z" fill="#c3c3c3"/>
<text x="40.80" y="271.10" font-size="6.6" fill="#2b2b2b" textLength="20.7" lengthAdjust="spacingAndGlyphs">Vehicle</text>
<line x1="33.60" y1="286.70" x2="181.00" y2="286.70" stroke="#3a3a3a" stroke-width="1.0" stroke-dasharray="3.4,2.2"/>
<path d="M33.50,276.90 L37.70,286.50 L33.50,285.50 L29.30,286.50 Z" fill="#c8102e"/>
<text x="40.80" y="282.80" font-size="6.6" fill="#c8203c" textLength="56.5" lengthAdjust="spacingAndGlyphs">Untargeted αCD28</text>
<text x="97.60" y="284.10" font-size="3.6" fill="#c8203c" textLength="9.6" lengthAdjust="spacingAndGlyphs">HIGH</text>
<text x="107.40" y="282.80" font-size="6.6" fill="#c8203c" textLength="22.6" lengthAdjust="spacingAndGlyphs">-AF647</text>
<line x1="33.60" y1="301.00" x2="181.00" y2="301.00" stroke="#3a3a3a" stroke-width="1.0" stroke-dasharray="3.4,2.2"/>
<path d="M33.50,291.40 L37.70,301.00 L33.50,300.00 L29.30,301.00 Z" fill="#1d4a7a"/>
<text x="40.80" y="297.00" font-size="6.6" fill="#2f5f8e" textLength="56.5" lengthAdjust="spacingAndGlyphs">Untargeted αCD28</text>
<text x="97.60" y="298.30" font-size="3.6" fill="#2f5f8e" textLength="8.2" lengthAdjust="spacingAndGlyphs">MED</text>
<text x="106.00" y="297.00" font-size="6.6" fill="#2f5f8e" textLength="22.6" lengthAdjust="spacingAndGlyphs">-AF647</text>
<line x1="33.60" y1="315.10" x2="181.00" y2="315.10" stroke="#3a3a3a" stroke-width="1.0" stroke-dasharray="3.4,2.2"/>
<path d="M33.50,304.80 L37.70,314.40 L33.50,313.40 L29.30,314.40 Z" fill="#9d96c8"/>
<text x="40.80" y="311.30" font-size="6.6" fill="#9f9ccd" textLength="56.5" lengthAdjust="spacingAndGlyphs">Untargeted αCD28</text>
<text x="97.60" y="312.60" font-size="3.6" fill="#9f9ccd" textLength="8.6" lengthAdjust="spacingAndGlyphs">LOW</text>
<text x="106.40" y="311.30" font-size="6.6" fill="#9f9ccd" textLength="22.6" lengthAdjust="spacingAndGlyphs">-AF647</text>
<text x="282.50" y="194.90" font-size="8.4" fill="#2b2b2b" stroke="#2b2b2b" textLength="22.3" lengthAdjust="spacingAndGlyphs">Blood</text>
<line x1="249.60" y1="200.50" x2="249.60" y2="317.50" stroke="#1a1a1a" stroke-width="1.0"/>
<line x1="246.60" y1="310.30" x2="338.10" y2="310.30" stroke="#222" stroke-width="0.9"/>
<line x1="249.60" y1="317.50" x2="338.10" y2="317.50" stroke="#1a1a1a" stroke-width="1.0"/>
<line x1="246.60" y1="274.30" x2="249.60" y2="274.30" stroke="#1a1a1a" stroke-width="0.8"/>
<text x="243.00" y="276.60" font-size="6.6" fill="#2b2b2b" text-anchor="end" textLength="13.8" lengthAdjust="spacingAndGlyphs">1000</text>
<line x1="246.60" y1="238.60" x2="249.60" y2="238.60" stroke="#1a1a1a" stroke-width="0.8"/>
<text x="243.00" y="240.90" font-size="6.6" fill="#2b2b2b" text-anchor="end" textLength="13.8" lengthAdjust="spacingAndGlyphs">2000</text>
<line x1="246.60" y1="202.90" x2="249.60" y2="202.90" stroke="#1a1a1a" stroke-width="0.8"/>
<text x="243.00" y="205.20" font-size="6.6" fill="#2b2b2b" text-anchor="end" textLength="13.8" lengthAdjust="spacingAndGlyphs">3000</text>
<text x="243.00" y="312.30" font-size="6.6" fill="#2b2b2b" text-anchor="end" textLength="3.45" lengthAdjust="spacingAndGlyphs">0</text>
<line x1="263.60" y1="317.50" x2="263.60" y2="320.60" stroke="#1a1a1a" stroke-width="0.8"/>
<text x="263.60" y="328.80" font-size="6.4" fill="#2b2b2b" text-anchor="middle" textLength="7.2" lengthAdjust="spacingAndGlyphs">2h</text>
<line x1="293.80" y1="317.50" x2="293.80" y2="320.60" stroke="#1a1a1a" stroke-width="0.8"/>
<text x="293.80" y="328.80" font-size="6.4" fill="#2b2b2b" text-anchor="middle" textLength="10.6" lengthAdjust="spacingAndGlyphs">24h</text>
<line x1="324.00" y1="317.50" x2="324.00" y2="320.60" stroke="#1a1a1a" stroke-width="0.8"/>
<text x="324.00" y="328.80" font-size="6.4" fill="#2b2b2b" text-anchor="middle" textLength="10.6" lengthAdjust="spacingAndGlyphs">72h</text>
<rect x="252.50" y="262.50" width="3.2" height="47.50" fill="#c8102e"/>
<line x1="254.10" y1="257.00" x2="254.10" y2="262.50" stroke="#555" stroke-width="0.8"/>
<line x1="252.90" y1="257.00" x2="255.30" y2="257.00" stroke="#555" stroke-width="0.8"/>
<circle cx="254.10" cy="253.25" r="2.35" fill="#7d1426" stroke="#1a1a1a" stroke-width="0.55"/>
<circle cx="254.10" cy="264.25" r="2.35" fill="#7d1426" stroke="#1a1a1a" stroke-width="0.55"/>
<circle cx="254.10" cy="266.25" r="2.35" fill="#7d1426" stroke="#1a1a1a" stroke-width="0.55"/>
<rect x="259.40" y="285.00" width="3.2" height="25.00" fill="#1d4a7a"/>
<circle cx="261.00" cy="283.75" r="2.35" fill="#173e58" stroke="#1a1a1a" stroke-width="0.55"/>
<circle cx="261.00" cy="287.00" r="2.35" fill="#173e58" stroke="#1a1a1a" stroke-width="0.55"/>
<circle cx="261.00" cy="290.50" r="2.35" fill="#173e58" stroke="#1a1a1a" stroke-width="0.55"/>
<rect x="265.70" y="302.50" width="3.2" height="7.50" fill="#9d96c8"/>
<circle cx="267.30" cy="301.25" r="2.35" fill="#9a93c6" stroke="#1a1a1a" stroke-width="0.55"/>
<circle cx="267.30" cy="304.50" r="2.35" fill="#9a93c6" stroke="#1a1a1a" stroke-width="0.55"/>
<circle cx="273.50" cy="311.60" r="2.4" fill="#e4e4e4" stroke="#1a1a1a" stroke-width="0.9"/>
<rect x="282.70" y="228.75" width="3.2" height="81.25" fill="#c8102e"/>
<line x1="284.30" y1="217.00" x2="284.30" y2="228.75" stroke="#555" stroke-width="0.8"/>
<line x1="283.10" y1="217.00" x2="285.50" y2="217.00" stroke="#555" stroke-width="0.8"/>
<circle cx="284.30" cy="207.50" r="2.35" fill="#7d1426" stroke="#1a1a1a" stroke-width="0.55"/>
<circle cx="284.30" cy="235.00" r="2.35" fill="#7d1426" stroke="#1a1a1a" stroke-width="0.55"/>
<circle cx="284.30" cy="241.25" r="2.35" fill="#7d1426" stroke="#1a1a1a" stroke-width="0.55"/>
<rect x="289.60" y="287.50" width="3.2" height="22.50" fill="#1d4a7a"/>
<circle cx="291.20" cy="280.50" r="2.35" fill="#173e58" stroke="#1a1a1a" stroke-width="0.55"/>
<circle cx="291.20" cy="288.25" r="2.35" fill="#173e58" stroke="#1a1a1a" stroke-width="0.55"/>
<circle cx="291.20" cy="292.50" r="2.35" fill="#173e58" stroke="#1a1a1a" stroke-width="0.55"/>
<rect x="295.90" y="301.50" width="3.2" height="8.50" fill="#9d96c8"/>
<circle cx="297.50" cy="300.00" r="2.35" fill="#9a93c6" stroke="#1a1a1a" stroke-width="0.55"/>
<circle cx="297.50" cy="303.75" r="2.35" fill="#9a93c6" stroke="#1a1a1a" stroke-width="0.55"/>
<circle cx="303.70" cy="311.60" r="2.4" fill="#e4e4e4" stroke="#1a1a1a" stroke-width="0.9"/>
<rect x="312.90" y="248.75" width="3.2" height="61.25" fill="#c8102e"/>
<circle cx="314.50" cy="242.50" r="2.35" fill="#7d1426" stroke="#1a1a1a" stroke-width="0.55"/>
<circle cx="314.50" cy="256.25" r="2.35" fill="#7d1426" stroke="#1a1a1a" stroke-width="0.55"/>
<rect x="319.80" y="293.50" width="3.2" height="16.50" fill="#1d4a7a"/>
<circle cx="321.40" cy="290.00" r="2.35" fill="#173e58" stroke="#1a1a1a" stroke-width="0.55"/>
<circle cx="321.40" cy="294.50" r="2.35" fill="#173e58" stroke="#1a1a1a" stroke-width="0.55"/>
<circle cx="321.40" cy="298.75" r="2.35" fill="#173e58" stroke="#1a1a1a" stroke-width="0.55"/>
<rect x="326.10" y="296.50" width="3.2" height="13.50" fill="#9d96c8"/>
<circle cx="327.70" cy="292.50" r="2.35" fill="#9a93c6" stroke="#1a1a1a" stroke-width="0.55"/>
<circle cx="327.70" cy="297.00" r="2.35" fill="#9a93c6" stroke="#1a1a1a" stroke-width="0.55"/>
<circle cx="327.70" cy="302.00" r="2.35" fill="#9a93c6" stroke="#1a1a1a" stroke-width="0.55"/>
<circle cx="333.90" cy="311.60" r="2.4" fill="#e4e4e4" stroke="#1a1a1a" stroke-width="0.9"/>
<text transform="translate(222.58,258.50) rotate(-90)" font-size="6.8" fill="#2b2b2b" text-anchor="middle" textLength="101" lengthAdjust="spacingAndGlyphs">Labeled molecule on T cells [MFI]</text>
<text x="429.10" y="194.90" font-size="8.4" fill="#2b2b2b" stroke="#2b2b2b" textLength="27.0" lengthAdjust="spacingAndGlyphs">Spleen</text>
<line x1="397.70" y1="200.50" x2="397.70" y2="317.50" stroke="#1a1a1a" stroke-width="1.0"/>
<line x1="394.70" y1="310.30" x2="486.20" y2="310.30" stroke="#222" stroke-width="0.9"/>
<line x1="397.70" y1="317.50" x2="486.20" y2="317.50" stroke="#1a1a1a" stroke-width="1.0"/>
<line x1="394.70" y1="274.30" x2="397.70" y2="274.30" stroke="#1a1a1a" stroke-width="0.8"/>
<text x="391.10" y="276.60" font-size="6.6" fill="#2b2b2b" text-anchor="end" textLength="13.8" lengthAdjust="spacingAndGlyphs">1000</text>
<line x1="394.70" y1="238.60" x2="397.70" y2="238.60" stroke="#1a1a1a" stroke-width="0.8"/>
<text x="391.10" y="240.90" font-size="6.6" fill="#2b2b2b" text-anchor="end" textLength="13.8" lengthAdjust="spacingAndGlyphs">2000</text>
<line x1="394.70" y1="202.90" x2="397.70" y2="202.90" stroke="#1a1a1a" stroke-width="0.8"/>
<text x="391.10" y="205.20" font-size="6.6" fill="#2b2b2b" text-anchor="end" textLength="13.8" lengthAdjust="spacingAndGlyphs">3000</text>
<text x="391.10" y="312.30" font-size="6.6" fill="#2b2b2b" text-anchor="end" textLength="3.45" lengthAdjust="spacingAndGlyphs">0</text>
<line x1="411.70" y1="317.50" x2="411.70" y2="320.60" stroke="#1a1a1a" stroke-width="0.8"/>
<text x="411.70" y="328.80" font-size="6.4" fill="#2b2b2b" text-anchor="middle" textLength="7.2" lengthAdjust="spacingAndGlyphs">2h</text>
<line x1="441.90" y1="317.50" x2="441.90" y2="320.60" stroke="#1a1a1a" stroke-width="0.8"/>
<text x="441.90" y="328.80" font-size="6.4" fill="#2b2b2b" text-anchor="middle" textLength="10.6" lengthAdjust="spacingAndGlyphs">24h</text>
<line x1="472.10" y1="317.50" x2="472.10" y2="320.60" stroke="#1a1a1a" stroke-width="0.8"/>
<text x="472.10" y="328.80" font-size="6.4" fill="#2b2b2b" text-anchor="middle" textLength="10.6" lengthAdjust="spacingAndGlyphs">72h</text>
<rect x="400.60" y="267.50" width="3.2" height="42.50" fill="#c8102e"/>
<circle cx="402.20" cy="265.50" r="2.35" fill="#7d1426" stroke="#1a1a1a" stroke-width="0.55"/>
<circle cx="402.20" cy="267.50" r="2.35" fill="#7d1426" stroke="#1a1a1a" stroke-width="0.55"/>
<circle cx="402.20" cy="269.50" r="2.35" fill="#7d1426" stroke="#1a1a1a" stroke-width="0.55"/>
<rect x="407.50" y="288.75" width="3.2" height="21.25" fill="#1d4a7a"/>
<circle cx="409.10" cy="288.25" r="2.35" fill="#173e58" stroke="#1a1a1a" stroke-width="0.55"/>
<circle cx="409.10" cy="290.75" r="2.35" fill="#173e58" stroke="#1a1a1a" stroke-width="0.55"/>
<circle cx="409.10" cy="299.25" r="2.35" fill="#173e58" stroke="#1a1a1a" stroke-width="0.55"/>
<rect x="413.80" y="301.25" width="3.2" height="8.75" fill="#9d96c8"/>
<circle cx="415.40" cy="300.50" r="2.35" fill="#9a93c6" stroke="#1a1a1a" stroke-width="0.55"/>
<circle cx="415.40" cy="303.00" r="2.35" fill="#9a93c6" stroke="#1a1a1a" stroke-width="0.55"/>
<circle cx="415.40" cy="305.00" r="2.35" fill="#9a93c6" stroke="#1a1a1a" stroke-width="0.55"/>
<circle cx="421.60" cy="311.60" r="2.4" fill="#e4e4e4" stroke="#1a1a1a" stroke-width="0.9"/>
<rect x="430.80" y="242.50" width="3.2" height="67.50" fill="#c8102e"/>
<line x1="432.40" y1="227.00" x2="432.40" y2="242.50" stroke="#555" stroke-width="0.8"/>
<line x1="431.20" y1="227.00" x2="433.60" y2="227.00" stroke="#555" stroke-width="0.8"/>
<circle cx="432.40" cy="217.00" r="2.35" fill="#7d1426" stroke="#1a1a1a" stroke-width="0.55"/>
<circle cx="432.40" cy="241.25" r="2.35" fill="#7d1426" stroke="#1a1a1a" stroke-width="0.55"/>
<circle cx="432.40" cy="258.00" r="2.35" fill="#7d1426" stroke="#1a1a1a" stroke-width="0.55"/>
<rect x="437.70" y="284.50" width="3.2" height="25.50" fill="#1d4a7a"/>
<circle cx="439.30" cy="282.00" r="2.35" fill="#173e58" stroke="#1a1a1a" stroke-width="0.55"/>
<circle cx="439.30" cy="284.50" r="2.35" fill="#173e58" stroke="#1a1a1a" stroke-width="0.55"/>
<circle cx="439.30" cy="287.50" r="2.35" fill="#173e58" stroke="#1a1a1a" stroke-width="0.55"/>
<rect x="444.00" y="296.25" width="3.2" height="13.75" fill="#9d96c8"/>
<circle cx="445.60" cy="292.50" r="2.35" fill="#9a93c6" stroke="#1a1a1a" stroke-width="0.55"/>
<circle cx="445.60" cy="296.25" r="2.35" fill="#9a93c6" stroke="#1a1a1a" stroke-width="0.55"/>
<circle cx="445.60" cy="300.50" r="2.35" fill="#9a93c6" stroke="#1a1a1a" stroke-width="0.55"/>
<circle cx="451.80" cy="311.60" r="2.4" fill="#e4e4e4" stroke="#1a1a1a" stroke-width="0.9"/>
<rect x="461.00" y="253.00" width="3.2" height="57.00" fill="#c8102e"/>
<circle cx="462.60" cy="245.50" r="2.35" fill="#7d1426" stroke="#1a1a1a" stroke-width="0.55"/>
<circle cx="462.60" cy="252.50" r="2.35" fill="#7d1426" stroke="#1a1a1a" stroke-width="0.55"/>
<circle cx="462.60" cy="255.50" r="2.35" fill="#7d1426" stroke="#1a1a1a" stroke-width="0.55"/>
<rect x="467.90" y="293.00" width="3.2" height="17.00" fill="#1d4a7a"/>
<circle cx="469.50" cy="289.50" r="2.35" fill="#173e58" stroke="#1a1a1a" stroke-width="0.55"/>
<circle cx="469.50" cy="293.00" r="2.35" fill="#173e58" stroke="#1a1a1a" stroke-width="0.55"/>
<circle cx="469.50" cy="296.25" r="2.35" fill="#173e58" stroke="#1a1a1a" stroke-width="0.55"/>
<rect x="474.20" y="291.75" width="3.2" height="18.25" fill="#9d96c8"/>
<circle cx="475.80" cy="290.00" r="2.35" fill="#9a93c6" stroke="#1a1a1a" stroke-width="0.55"/>
<circle cx="475.80" cy="291.75" r="2.35" fill="#9a93c6" stroke="#1a1a1a" stroke-width="0.55"/>
<circle cx="475.80" cy="294.50" r="2.35" fill="#9a93c6" stroke="#1a1a1a" stroke-width="0.55"/>
<circle cx="482.00" cy="311.60" r="2.4" fill="#e4e4e4" stroke="#1a1a1a" stroke-width="0.9"/>
<text transform="translate(370.78,258.50) rotate(-90)" font-size="6.8" fill="#2b2b2b" text-anchor="middle" textLength="101" lengthAdjust="spacingAndGlyphs">Labeled molecule on T cells [MFI]</text>
<circle cx="480.00" cy="204.50" r="2.5" fill="#7d1426" stroke="#1a1a1a" stroke-width="0.55"/>
<text x="485.70" y="206.90" font-size="6.6" fill="#2b2b2b" textLength="16.6" lengthAdjust="spacingAndGlyphs">CD28</text>
<text x="502.50" y="208.20" font-size="4.0" fill="#2b2b2b" textLength="10.5" lengthAdjust="spacingAndGlyphs">HIGH</text>
<circle cx="480.00" cy="214.50" r="2.5" fill="#173e58" stroke="#1a1a1a" stroke-width="0.55"/>
<text x="485.70" y="216.90" font-size="6.6" fill="#2b2b2b" textLength="16.6" lengthAdjust="spacingAndGlyphs">CD28</text>
<text x="502.50" y="218.20" font-size="4.0" fill="#2b2b2b" textLength="9.5" lengthAdjust="spacingAndGlyphs">MED</text>
<circle cx="480.00" cy="224.50" r="2.5" fill="#9a93c6" stroke="#1a1a1a" stroke-width="0.55"/>
<text x="485.70" y="226.90" font-size="6.6" fill="#2b2b2b" textLength="16.6" lengthAdjust="spacingAndGlyphs">CD28</text>
<text x="502.50" y="228.20" font-size="4.0" fill="#2b2b2b" textLength="9.8" lengthAdjust="spacingAndGlyphs">LOW</text>
<circle cx="480.00" cy="235.00" r="2.5" fill="#e4e4e4" stroke="#1a1a1a" stroke-width="0.9"/>
<text x="485.70" y="237.40" font-size="6.6" fill="#2b2b2b" textLength="20.4" lengthAdjust="spacingAndGlyphs">Vehicle</text>
<g transform="translate(39.6,378.7) scale(0.85)">
<path d="M0,0 C0.8,-1.2 1.9,-2.6 2.1,-3.7 C2.6,-5 3.3,-6 3.7,-6.9 L3.6,-11.9 C5.2,-11.2 6.7,-10.3 7.4,-9.5 C8.5,-8.9 9.4,-8.4 10.05,-8.15 C10.8,-7.6 11.2,-7.3 11.64,-7.09 C13.5,-7.9 15,-8.2 16.93,-8.15 C19.5,-8.2 21.6,-8.1 23.28,-7.41 C25.2,-6.5 26.6,-5.2 27.51,-3.7 C29,-1.5 29.8,0.6 29.9,2.65 C30.1,5 29.9,7 29.42,8.99 C29.1,10.8 28.7,12.6 28.04,14.07 L10.05,14.07 C10,13.2 10.2,12.6 10.58,12.17 C11.2,11.5 12,11 12.7,10.58 C12.4,9.6 12.1,8.7 11.64,7.94 C11.2,7.2 10.6,6.7 10.05,6.35 L6.35,6.35 C5.4,6.3 4.6,6.2 4.23,5.82 C4.1,5.2 4.3,4.8 4.76,4.55 C5.4,4.3 6.1,4.2 6.88,4.23 L8.47,4.55 C7.6,3.9 6.7,3.5 5.82,3.17 C4.9,2.8 4,2.5 3.17,2.12 C2.2,1.8 1.2,1.5 0.53,1.06 Z" fill="#0d0d0d"/>
<circle cx="13.3" cy="-10.5" r="3.55" fill="#0d0d0d" stroke="#fff" stroke-width="0.6"/>
<path d="M11.3,-7.6 C12.3,-7.3 13.2,-7.4 14,-7.9" fill="none" stroke="#0d0d0d" stroke-width="1.2"/>
<circle cx="5.6" cy="-3.6" r="0.95" fill="#fff"/>
<path d="M27.6,13.95 L36,13.95 C39,13.9 41.6,13 43.3,11.3 C44.9,9.8 45.6,7.6 45.3,5.6 C45.2,4.8 44.9,4.1 44.6,3.6" fill="none" stroke="#0d0d0d" stroke-width="0.9" stroke-linecap="round"/>
<path d="M12.6,10.7 C11.5,11.2 10.8,11.9 10.5,12.6" fill="none" stroke="#fff" stroke-width="0.5"/>
</g>
<text x="22.20" y="364.70" font-size="6.4" fill="#2b2b2b" textLength="33.2" lengthAdjust="spacingAndGlyphs">Humanized</text>
<text x="22.20" y="372.20" font-size="6.4" fill="#2b2b2b" textLength="13.2" lengthAdjust="spacingAndGlyphs">NSG</text>
<path d="M90.40,360.50 L93.90,368.50 L90.40,367.70 L86.90,368.50 Z" fill="#c3c3c3"/>
<text x="96.90" y="366.90" font-size="6.6" fill="#2b2b2b" textLength="20.8" lengthAdjust="spacingAndGlyphs">Vehicle</text>
<path d="M90.40,374.20 L93.90,382.20 L90.40,381.40 L86.90,382.20 Z" fill="#c8102e"/>
<text x="96.90" y="380.60" font-size="6.6" fill="#c8203c" textLength="32.5" lengthAdjust="spacingAndGlyphs">Glofitamab</text>
<path d="M139.70,360.50 L143.20,368.50 L139.70,367.70 L136.20,368.50 Z" fill="#1d4a7a"/>
<text x="146.20" y="366.90" font-size="6.6" fill="#2f5f8e" textLength="35.1" lengthAdjust="spacingAndGlyphs">CD19-CD28</text>
<text x="181.40" y="368.30" font-size="4.0" fill="#2f5f8e" textLength="10.0" lengthAdjust="spacingAndGlyphs">MED</text>
<path d="M139.70,374.20 L143.20,382.20 L139.70,381.40 L136.20,382.20 Z" fill="#9d96c8"/>
<text x="146.20" y="380.60" font-size="6.6" fill="#9f9ccd" textLength="35.1" lengthAdjust="spacingAndGlyphs">CD19-CD28</text>
<text x="181.40" y="382.00" font-size="4.0" fill="#9f9ccd" textLength="10.2" lengthAdjust="spacingAndGlyphs">LOW</text>
<line x1="58.50" y1="410.60" x2="183.50" y2="410.60" stroke="#444" stroke-width="1.2"/>
<line x1="183.50" y1="410.60" x2="214.00" y2="410.60" stroke="#444" stroke-width="1.2" stroke-dasharray="3.0,2.5"/>
<line x1="58.50" y1="405.20" x2="58.50" y2="416.20" stroke="#444" stroke-width="1.2"/>
<text x="58.50" y="402.20" font-size="6.9" fill="#2b2b2b" text-anchor="middle" textLength="8.0" lengthAdjust="spacingAndGlyphs">d0</text>
<line x1="87.70" y1="405.20" x2="87.70" y2="416.20" stroke="#444" stroke-width="1.2"/>
<text x="87.70" y="402.20" font-size="6.9" fill="#2b2b2b" text-anchor="middle" textLength="12.6" lengthAdjust="spacingAndGlyphs">d18</text>
<line x1="112.20" y1="405.20" x2="112.20" y2="416.20" stroke="#444" stroke-width="1.2"/>
<text x="112.20" y="402.20" font-size="6.9" fill="#2b2b2b" text-anchor="middle" textLength="12.6" lengthAdjust="spacingAndGlyphs">d21</text>
<line x1="144.00" y1="405.20" x2="144.00" y2="416.20" stroke="#444" stroke-width="1.2"/>
<text x="144.00" y="402.20" font-size="6.9" fill="#2b2b2b" text-anchor="middle" textLength="12.6" lengthAdjust="spacingAndGlyphs">d25</text>
<line x1="183.50" y1="405.20" x2="183.50" y2="416.20" stroke="#444" stroke-width="1.2"/>
<text x="183.50" y="402.20" font-size="6.9" fill="#2b2b2b" text-anchor="middle" textLength="12.6" lengthAdjust="spacingAndGlyphs">d32</text>
<line x1="213.40" y1="405.20" x2="213.40" y2="416.20" stroke="#444" stroke-width="1.2"/>
<text x="213.40" y="402.20" font-size="6.9" fill="#2b2b2b" text-anchor="middle" textLength="12.6" lengthAdjust="spacingAndGlyphs">d56</text>
<line x1="58.50" y1="436.50" x2="58.50" y2="425.50" stroke="#111" stroke-width="0.9"/>
<path d="M58.5,422.6 L56.4,427.0 L60.6,427.0 Z" fill="#111"/>
<text x="63.70" y="446.90" font-size="6.6" fill="#2b2b2b" text-anchor="end" textLength="24.2" lengthAdjust="spacingAndGlyphs">NALM-6</text>
<text x="63.40" y="455.20" font-size="6.6" fill="#2b2b2b" text-anchor="end" textLength="12.1" lengthAdjust="spacingAndGlyphs">(s.c.)</text>
<line x1="85.00" y1="428.20" x2="213.50" y2="428.20" stroke="#3a3a3a" stroke-width="1.0" stroke-dasharray="3.0,2.5"/>
<path d="M88.20,420.30 L91.70,428.30 L88.20,427.50 L84.70,428.30 Z" fill="#c3c3c3"/>
<path d="M143.90,420.30 L147.40,428.30 L143.90,427.50 L140.40,428.30 Z" fill="#c3c3c3"/>
<path d="M183.40,420.30 L186.90,428.30 L183.40,427.50 L179.90,428.30 Z" fill="#c3c3c3"/>
<line x1="85.00" y1="439.00" x2="213.50" y2="439.00" stroke="#3a3a3a" stroke-width="1.0" stroke-dasharray="3.0,2.5"/>
<path d="M88.20,431.30 L91.70,439.30 L88.20,438.50 L84.70,439.30 Z" fill="#c8102e"/>
<path d="M143.90,431.30 L147.40,439.30 L143.90,438.50 L140.40,439.30 Z" fill="#c8102e"/>
<path d="M183.40,431.30 L186.90,439.30 L183.40,438.50 L179.90,439.30 Z" fill="#c8102e"/>
<line x1="85.00" y1="451.30" x2="213.50" y2="451.30" stroke="#3a3a3a" stroke-width="1.0" stroke-dasharray="3.0,2.5"/>
<path d="M88.20,443.60 L91.70,451.60 L88.20,450.80 L84.70,451.60 Z" fill="#c8102e"/>
<path d="M111.70,443.60 L115.20,451.60 L111.70,450.80 L108.20,451.60 Z" fill="#1d4a7a"/>
<path d="M140.00,443.60 L143.50,451.60 L140.00,450.80 L136.50,451.60 Z" fill="#c8102e"/>
<path d="M148.50,443.60 L152.00,451.60 L148.50,450.80 L145.00,451.60 Z" fill="#1d4a7a"/>
<path d="M180.80,443.60 L184.30,451.60 L180.80,450.80 L177.30,451.60 Z" fill="#c8102e"/>
<path d="M188.90,443.60 L192.40,451.60 L188.90,450.80 L185.40,451.60 Z" fill="#1d4a7a"/>
<line x1="85.00" y1="463.30" x2="213.50" y2="463.30" stroke="#3a3a3a" stroke-width="1.0" stroke-dasharray="3.0,2.5"/>
<path d="M88.20,455.50 L91.70,463.50 L88.20,462.70 L84.70,463.50 Z" fill="#c8102e"/>
<path d="M111.70,455.50 L115.20,463.50 L111.70,462.70 L108.20,463.50 Z" fill="#9d96c8"/>
<path d="M140.00,455.50 L143.50,463.50 L140.00,462.70 L136.50,463.50 Z" fill="#c8102e"/>
<path d="M148.50,455.50 L152.00,463.50 L148.50,462.70 L145.00,463.50 Z" fill="#9d96c8"/>
<path d="M180.80,455.50 L184.30,463.50 L180.80,462.70 L177.30,463.50 Z" fill="#c8102e"/>
<path d="M188.90,455.50 L192.40,463.50 L188.90,462.70 L185.40,463.50 Z" fill="#9d96c8"/>
<line x1="280.60" y1="359.50" x2="280.60" y2="463.20" stroke="#1a1a1a" stroke-width="1.1"/>
<line x1="280.60" y1="462.70" x2="455.00" y2="462.70" stroke="#1a1a1a" stroke-width="1.1"/>
<line x1="277.30" y1="462.70" x2="280.60" y2="462.70" stroke="#1a1a1a" stroke-width="0.9"/>
<text x="274.60" y="464.90" font-size="6.3" fill="#2b2b2b" text-anchor="end" textLength="3.5" lengthAdjust="spacingAndGlyphs">0</text>
<line x1="277.30" y1="442.62" x2="280.60" y2="442.62" stroke="#1a1a1a" stroke-width="0.9"/>
<text x="274.60" y="444.82" font-size="6.3" fill="#2b2b2b" text-anchor="end" textLength="10.5" lengthAdjust="spacingAndGlyphs">500</text>
<line x1="277.30" y1="422.54" x2="280.60" y2="422.54" stroke="#1a1a1a" stroke-width="0.9"/>
<text x="274.60" y="424.74" font-size="6.3" fill="#2b2b2b" text-anchor="end" textLength="14.0" lengthAdjust="spacingAndGlyphs">1000</text>
<line x1="277.30" y1="402.46" x2="280.60" y2="402.46" stroke="#1a1a1a" stroke-width="0.9"/>
<text x="274.60" y="404.66" font-size="6.3" fill="#2b2b2b" text-anchor="end" textLength="14.0" lengthAdjust="spacingAndGlyphs">1500</text>
<line x1="277.30" y1="382.38" x2="280.60" y2="382.38" stroke="#1a1a1a" stroke-width="0.9"/>
<text x="274.60" y="384.58" font-size="6.3" fill="#2b2b2b" text-anchor="end" textLength="14.0" lengthAdjust="spacingAndGlyphs">2000</text>
<line x1="277.30" y1="362.30" x2="280.60" y2="362.30" stroke="#1a1a1a" stroke-width="0.9"/>
<text x="274.60" y="364.50" font-size="6.3" fill="#2b2b2b" text-anchor="end" textLength="14.0" lengthAdjust="spacingAndGlyphs">2500</text>
<line x1="280.30" y1="462.70" x2="280.30" y2="465.60" stroke="#1a1a1a" stroke-width="0.8"/>
<text x="280.30" y="473.60" font-size="6.3" fill="#2b2b2b" text-anchor="middle" textLength="3.5" lengthAdjust="spacingAndGlyphs">0</text>
<line x1="308.83" y1="462.70" x2="308.83" y2="465.60" stroke="#1a1a1a" stroke-width="0.8"/>
<text x="308.83" y="473.60" font-size="6.3" fill="#2b2b2b" text-anchor="middle" textLength="7.0" lengthAdjust="spacingAndGlyphs">10</text>
<line x1="337.36" y1="462.70" x2="337.36" y2="465.60" stroke="#1a1a1a" stroke-width="0.8"/>
<text x="337.36" y="473.60" font-size="6.3" fill="#2b2b2b" text-anchor="middle" textLength="7.0" lengthAdjust="spacingAndGlyphs">20</text>
<line x1="365.89" y1="462.70" x2="365.89" y2="465.60" stroke="#1a1a1a" stroke-width="0.8"/>
<text x="365.89" y="473.60" font-size="6.3" fill="#2b2b2b" text-anchor="middle" textLength="7.0" lengthAdjust="spacingAndGlyphs">30</text>
<line x1="394.42" y1="462.70" x2="394.42" y2="465.60" stroke="#1a1a1a" stroke-width="0.8"/>
<text x="394.42" y="473.60" font-size="6.3" fill="#2b2b2b" text-anchor="middle" textLength="7.0" lengthAdjust="spacingAndGlyphs">40</text>
<line x1="422.95" y1="462.70" x2="422.95" y2="465.60" stroke="#1a1a1a" stroke-width="0.8"/>
<text x="422.95" y="473.60" font-size="6.3" fill="#2b2b2b" text-anchor="middle" textLength="7.0" lengthAdjust="spacingAndGlyphs">50</text>
<line x1="451.48" y1="462.70" x2="451.48" y2="465.60" stroke="#1a1a1a" stroke-width="0.8"/>
<text x="451.48" y="473.60" font-size="6.3" fill="#2b2b2b" text-anchor="middle" textLength="7.0" lengthAdjust="spacingAndGlyphs">60</text>
<text x="367.80" y="486.60" font-size="7.6" fill="#2b2b2b" stroke="#2b2b2b" text-anchor="middle" textLength="29.8" lengthAdjust="spacingAndGlyphs">Study day</text>
<text transform="translate(253.41,411.60) rotate(-90)" font-size="6.9" fill="#2b2b2b" text-anchor="middle">Tumor volume [mm<tspan font-size="4.5" dy="-2.2">3</tspan><tspan dy="2.2">]</tspan></text>
<path d="M331.65,457.08L337.36,456.68L343.07,457.08L351.62,455.47L357.33,453.46L363.04,450.65L371.60,444.63L377.30,440.21L383.01,434.59L391.57,432.58L397.27,428.56L402.98,417.32L411.54,412.50L417.24,399.25L422.95,388.40L431.51,374.35" fill="none" stroke="#c0283c" stroke-width="0.9"/>
<line x1="331.65" y1="457.08" x2="331.65" y2="455.87" stroke="#444" stroke-width="0.7"/>
<line x1="330.35" y1="455.87" x2="332.95" y2="455.87" stroke="#444" stroke-width="0.7"/>
<line x1="337.36" y1="456.68" x2="337.36" y2="455.47" stroke="#444" stroke-width="0.7"/>
<line x1="336.06" y1="455.47" x2="338.66" y2="455.47" stroke="#444" stroke-width="0.7"/>
<line x1="343.07" y1="457.08" x2="343.07" y2="455.87" stroke="#444" stroke-width="0.7"/>
<line x1="341.77" y1="455.87" x2="344.37" y2="455.87" stroke="#444" stroke-width="0.7"/>
<line x1="351.62" y1="455.47" x2="351.62" y2="453.86" stroke="#444" stroke-width="0.7"/>
<line x1="350.32" y1="453.86" x2="352.93" y2="453.86" stroke="#444" stroke-width="0.7"/>
<line x1="357.33" y1="453.46" x2="357.33" y2="451.86" stroke="#444" stroke-width="0.7"/>
<line x1="356.03" y1="451.86" x2="358.63" y2="451.86" stroke="#444" stroke-width="0.7"/>
<line x1="363.04" y1="450.65" x2="363.04" y2="448.64" stroke="#444" stroke-width="0.7"/>
<line x1="361.74" y1="448.64" x2="364.34" y2="448.64" stroke="#444" stroke-width="0.7"/>
<line x1="371.60" y1="444.63" x2="371.60" y2="442.22" stroke="#444" stroke-width="0.7"/>
<line x1="370.30" y1="442.22" x2="372.90" y2="442.22" stroke="#444" stroke-width="0.7"/>
<line x1="377.30" y1="440.21" x2="377.30" y2="437.40" stroke="#444" stroke-width="0.7"/>
<line x1="376.00" y1="437.40" x2="378.60" y2="437.40" stroke="#444" stroke-width="0.7"/>
<line x1="383.01" y1="434.59" x2="383.01" y2="431.38" stroke="#444" stroke-width="0.7"/>
<line x1="381.71" y1="431.38" x2="384.31" y2="431.38" stroke="#444" stroke-width="0.7"/>
<line x1="391.57" y1="432.58" x2="391.57" y2="428.97" stroke="#444" stroke-width="0.7"/>
<line x1="390.27" y1="428.97" x2="392.87" y2="428.97" stroke="#444" stroke-width="0.7"/>
<line x1="397.27" y1="428.56" x2="397.27" y2="424.15" stroke="#444" stroke-width="0.7"/>
<line x1="395.97" y1="424.15" x2="398.57" y2="424.15" stroke="#444" stroke-width="0.7"/>
<line x1="402.98" y1="417.32" x2="402.98" y2="411.30" stroke="#444" stroke-width="0.7"/>
<line x1="401.68" y1="411.30" x2="404.28" y2="411.30" stroke="#444" stroke-width="0.7"/>
<line x1="411.54" y1="412.50" x2="411.54" y2="408.48" stroke="#444" stroke-width="0.7"/>
<line x1="410.24" y1="408.48" x2="412.84" y2="408.48" stroke="#444" stroke-width="0.7"/>
<line x1="417.24" y1="399.25" x2="417.24" y2="394.43" stroke="#444" stroke-width="0.7"/>
<line x1="415.94" y1="394.43" x2="418.54" y2="394.43" stroke="#444" stroke-width="0.7"/>
<line x1="422.95" y1="388.40" x2="422.95" y2="381.58" stroke="#444" stroke-width="0.7"/>
<line x1="421.65" y1="381.58" x2="424.25" y2="381.58" stroke="#444" stroke-width="0.7"/>
<line x1="431.51" y1="374.35" x2="431.51" y2="368.32" stroke="#444" stroke-width="0.7"/>
<line x1="430.21" y1="368.32" x2="432.81" y2="368.32" stroke="#444" stroke-width="0.7"/>
<circle cx="331.65" cy="457.08" r="2.3" fill="#7d1426" stroke="#1a1a1a" stroke-width="0.55"/>
<circle cx="337.36" cy="456.68" r="2.3" fill="#7d1426" stroke="#1a1a1a" stroke-width="0.55"/>
<circle cx="343.07" cy="457.08" r="2.3" fill="#7d1426" stroke="#1a1a1a" stroke-width="0.55"/>
<circle cx="351.62" cy="455.47" r="2.3" fill="#7d1426" stroke="#1a1a1a" stroke-width="0.55"/>
<circle cx="357.33" cy="453.46" r="2.3" fill="#7d1426" stroke="#1a1a1a" stroke-width="0.55"/>
<circle cx="363.04" cy="450.65" r="2.3" fill="#7d1426" stroke="#1a1a1a" stroke-width="0.55"/>
<circle cx="371.60" cy="444.63" r="2.3" fill="#7d1426" stroke="#1a1a1a" stroke-width="0.55"/>
<circle cx="377.30" cy="440.21" r="2.3" fill="#7d1426" stroke="#1a1a1a" stroke-width="0.55"/>
<circle cx="383.01" cy="434.59" r="2.3" fill="#7d1426" stroke="#1a1a1a" stroke-width="0.55"/>
<circle cx="391.57" cy="432.58" r="2.3" fill="#7d1426" stroke="#1a1a1a" stroke-width="0.55"/>
<circle cx="397.27" cy="428.56" r="2.3" fill="#7d1426" stroke="#1a1a1a" stroke-width="0.55"/>
<circle cx="402.98" cy="417.32" r="2.3" fill="#7d1426" stroke="#1a1a1a" stroke-width="0.55"/>
<circle cx="411.54" cy="412.50" r="2.3" fill="#7d1426" stroke="#1a1a1a" stroke-width="0.55"/>
<circle cx="417.24" cy="399.25" r="2.3" fill="#7d1426" stroke="#1a1a1a" stroke-width="0.55"/>
<circle cx="422.95" cy="388.40" r="2.3" fill="#7d1426" stroke="#1a1a1a" stroke-width="0.55"/>
<circle cx="431.51" cy="374.35" r="2.3" fill="#7d1426" stroke="#1a1a1a" stroke-width="0.55"/>
<path d="M331.65,457.08L337.36,456.68L343.07,457.08L351.62,455.47L357.33,453.86L363.04,451.46L371.60,448.64L377.30,446.64L383.01,443.82L391.57,441.82L397.27,440.21L402.98,437.80L411.54,438.60L417.24,433.78L422.95,432.58L431.51,427.36" fill="none" stroke="#1d4a6b" stroke-width="0.9"/>
<line x1="331.65" y1="457.08" x2="331.65" y2="456.27" stroke="#444" stroke-width="0.7"/>
<line x1="330.35" y1="456.27" x2="332.95" y2="456.27" stroke="#444" stroke-width="0.7"/>
<line x1="337.36" y1="456.68" x2="337.36" y2="455.87" stroke="#444" stroke-width="0.7"/>
<line x1="336.06" y1="455.87" x2="338.66" y2="455.87" stroke="#444" stroke-width="0.7"/>
<line x1="343.07" y1="457.08" x2="343.07" y2="456.27" stroke="#444" stroke-width="0.7"/>
<line x1="341.77" y1="456.27" x2="344.37" y2="456.27" stroke="#444" stroke-width="0.7"/>
<line x1="351.62" y1="455.47" x2="351.62" y2="454.27" stroke="#444" stroke-width="0.7"/>
<line x1="350.32" y1="454.27" x2="352.93" y2="454.27" stroke="#444" stroke-width="0.7"/>
<line x1="357.33" y1="453.86" x2="357.33" y2="452.66" stroke="#444" stroke-width="0.7"/>
<line x1="356.03" y1="452.66" x2="358.63" y2="452.66" stroke="#444" stroke-width="0.7"/>
<line x1="363.04" y1="451.46" x2="363.04" y2="449.85" stroke="#444" stroke-width="0.7"/>
<line x1="361.74" y1="449.85" x2="364.34" y2="449.85" stroke="#444" stroke-width="0.7"/>
<line x1="371.60" y1="448.64" x2="371.60" y2="446.64" stroke="#444" stroke-width="0.7"/>
<line x1="370.30" y1="446.64" x2="372.90" y2="446.64" stroke="#444" stroke-width="0.7"/>
<line x1="377.30" y1="446.64" x2="377.30" y2="444.63" stroke="#444" stroke-width="0.7"/>
<line x1="376.00" y1="444.63" x2="378.60" y2="444.63" stroke="#444" stroke-width="0.7"/>
<line x1="383.01" y1="443.82" x2="383.01" y2="441.01" stroke="#444" stroke-width="0.7"/>
<line x1="381.71" y1="441.01" x2="384.31" y2="441.01" stroke="#444" stroke-width="0.7"/>
<line x1="391.57" y1="441.82" x2="391.57" y2="438.60" stroke="#444" stroke-width="0.7"/>
<line x1="390.27" y1="438.60" x2="392.87" y2="438.60" stroke="#444" stroke-width="0.7"/>
<line x1="397.27" y1="440.21" x2="397.27" y2="436.60" stroke="#444" stroke-width="0.7"/>
<line x1="395.97" y1="436.60" x2="398.57" y2="436.60" stroke="#444" stroke-width="0.7"/>
<line x1="402.98" y1="437.80" x2="402.98" y2="433.78" stroke="#444" stroke-width="0.7"/>
<line x1="401.68" y1="433.78" x2="404.28" y2="433.78" stroke="#444" stroke-width="0.7"/>
<line x1="411.54" y1="438.60" x2="411.54" y2="435.39" stroke="#444" stroke-width="0.7"/>
<line x1="410.24" y1="435.39" x2="412.84" y2="435.39" stroke="#444" stroke-width="0.7"/>
<line x1="417.24" y1="433.78" x2="417.24" y2="430.17" stroke="#444" stroke-width="0.7"/>
<line x1="415.94" y1="430.17" x2="418.54" y2="430.17" stroke="#444" stroke-width="0.7"/>
<line x1="422.95" y1="432.58" x2="422.95" y2="428.97" stroke="#444" stroke-width="0.7"/>
<line x1="421.65" y1="428.97" x2="424.25" y2="428.97" stroke="#444" stroke-width="0.7"/>
<line x1="431.51" y1="427.36" x2="431.51" y2="423.74" stroke="#444" stroke-width="0.7"/>
<line x1="430.21" y1="423.74" x2="432.81" y2="423.74" stroke="#444" stroke-width="0.7"/>
<circle cx="331.65" cy="457.08" r="2.3" fill="#173e58" stroke="#1a1a1a" stroke-width="0.55"/>
<circle cx="337.36" cy="456.68" r="2.3" fill="#173e58" stroke="#1a1a1a" stroke-width="0.55"/>
<circle cx="343.07" cy="457.08" r="2.3" fill="#173e58" stroke="#1a1a1a" stroke-width="0.55"/>
<circle cx="351.62" cy="455.47" r="2.3" fill="#173e58" stroke="#1a1a1a" stroke-width="0.55"/>
<circle cx="357.33" cy="453.86" r="2.3" fill="#173e58" stroke="#1a1a1a" stroke-width="0.55"/>
<circle cx="363.04" cy="451.46" r="2.3" fill="#173e58" stroke="#1a1a1a" stroke-width="0.55"/>
<circle cx="371.60" cy="448.64" r="2.3" fill="#173e58" stroke="#1a1a1a" stroke-width="0.55"/>
<circle cx="377.30" cy="446.64" r="2.3" fill="#173e58" stroke="#1a1a1a" stroke-width="0.55"/>
<circle cx="383.01" cy="443.82" r="2.3" fill="#173e58" stroke="#1a1a1a" stroke-width="0.55"/>
<circle cx="391.57" cy="441.82" r="2.3" fill="#173e58" stroke="#1a1a1a" stroke-width="0.55"/>
<circle cx="397.27" cy="440.21" r="2.3" fill="#173e58" stroke="#1a1a1a" stroke-width="0.55"/>
<circle cx="402.98" cy="437.80" r="2.3" fill="#173e58" stroke="#1a1a1a" stroke-width="0.55"/>
<circle cx="411.54" cy="438.60" r="2.3" fill="#173e58" stroke="#1a1a1a" stroke-width="0.55"/>
<circle cx="417.24" cy="433.78" r="2.3" fill="#173e58" stroke="#1a1a1a" stroke-width="0.55"/>
<circle cx="422.95" cy="432.58" r="2.3" fill="#173e58" stroke="#1a1a1a" stroke-width="0.55"/>
<circle cx="431.51" cy="427.36" r="2.3" fill="#173e58" stroke="#1a1a1a" stroke-width="0.55"/>
<path d="M331.65,457.08L337.36,456.68L343.07,457.48L351.62,455.87L357.33,454.67L363.04,453.06L371.60,451.46L377.30,450.65L383.01,449.45L391.57,447.84L397.27,446.64L402.98,445.83L411.54,445.83L417.24,445.03L422.95,445.43L431.51,447.44" fill="none" stroke="#8f8abf" stroke-width="0.9"/>
<line x1="331.65" y1="457.08" x2="331.65" y2="456.27" stroke="#444" stroke-width="0.7"/>
<line x1="330.35" y1="456.27" x2="332.95" y2="456.27" stroke="#444" stroke-width="0.7"/>
<line x1="337.36" y1="456.68" x2="337.36" y2="455.87" stroke="#444" stroke-width="0.7"/>
<line x1="336.06" y1="455.87" x2="338.66" y2="455.87" stroke="#444" stroke-width="0.7"/>
<line x1="343.07" y1="457.48" x2="343.07" y2="456.68" stroke="#444" stroke-width="0.7"/>
<line x1="341.77" y1="456.68" x2="344.37" y2="456.68" stroke="#444" stroke-width="0.7"/>
<line x1="351.62" y1="455.87" x2="351.62" y2="454.67" stroke="#444" stroke-width="0.7"/>
<line x1="350.32" y1="454.67" x2="352.93" y2="454.67" stroke="#444" stroke-width="0.7"/>
<line x1="357.33" y1="454.67" x2="357.33" y2="453.46" stroke="#444" stroke-width="0.7"/>
<line x1="356.03" y1="453.46" x2="358.63" y2="453.46" stroke="#444" stroke-width="0.7"/>
<line x1="363.04" y1="453.06" x2="363.04" y2="451.46" stroke="#444" stroke-width="0.7"/>
<line x1="361.74" y1="451.46" x2="364.34" y2="451.46" stroke="#444" stroke-width="0.7"/>
<line x1="371.60" y1="451.46" x2="371.60" y2="449.45" stroke="#444" stroke-width="0.7"/>
<line x1="370.30" y1="449.45" x2="372.90" y2="449.45" stroke="#444" stroke-width="0.7"/>
<line x1="377.30" y1="450.65" x2="377.30" y2="448.64" stroke="#444" stroke-width="0.7"/>
<line x1="376.00" y1="448.64" x2="378.60" y2="448.64" stroke="#444" stroke-width="0.7"/>
<line x1="383.01" y1="449.45" x2="383.01" y2="447.04" stroke="#444" stroke-width="0.7"/>
<line x1="381.71" y1="447.04" x2="384.31" y2="447.04" stroke="#444" stroke-width="0.7"/>
<line x1="391.57" y1="447.84" x2="391.57" y2="444.63" stroke="#444" stroke-width="0.7"/>
<line x1="390.27" y1="444.63" x2="392.87" y2="444.63" stroke="#444" stroke-width="0.7"/>
<line x1="397.27" y1="446.64" x2="397.27" y2="442.62" stroke="#444" stroke-width="0.7"/>
<line x1="395.97" y1="442.62" x2="398.57" y2="442.62" stroke="#444" stroke-width="0.7"/>
<line x1="402.98" y1="445.83" x2="402.98" y2="441.82" stroke="#444" stroke-width="0.7"/>
<line x1="401.68" y1="441.82" x2="404.28" y2="441.82" stroke="#444" stroke-width="0.7"/>
<line x1="411.54" y1="445.83" x2="411.54" y2="441.42" stroke="#444" stroke-width="0.7"/>
<line x1="410.24" y1="441.42" x2="412.84" y2="441.42" stroke="#444" stroke-width="0.7"/>
<line x1="417.24" y1="445.03" x2="417.24" y2="440.61" stroke="#444" stroke-width="0.7"/>
<line x1="415.94" y1="440.61" x2="418.54" y2="440.61" stroke="#444" stroke-width="0.7"/>
<line x1="422.95" y1="445.43" x2="422.95" y2="440.61" stroke="#444" stroke-width="0.7"/>
<line x1="421.65" y1="440.61" x2="424.25" y2="440.61" stroke="#444" stroke-width="0.7"/>
<line x1="431.51" y1="447.44" x2="431.51" y2="441.42" stroke="#444" stroke-width="0.7"/>
<line x1="430.21" y1="441.42" x2="432.81" y2="441.42" stroke="#444" stroke-width="0.7"/>
<circle cx="331.65" cy="457.08" r="2.3" fill="#9a93c6" stroke="#1a1a1a" stroke-width="0.55"/>
<circle cx="337.36" cy="456.68" r="2.3" fill="#9a93c6" stroke="#1a1a1a" stroke-width="0.55"/>
<circle cx="343.07" cy="457.48" r="2.3" fill="#9a93c6" stroke="#1a1a1a" stroke-width="0.55"/>
<circle cx="351.62" cy="455.87" r="2.3" fill="#9a93c6" stroke="#1a1a1a" stroke-width="0.55"/>
<circle cx="357.33" cy="454.67" r="2.3" fill="#9a93c6" stroke="#1a1a1a" stroke-width="0.55"/>
<circle cx="363.04" cy="453.06" r="2.3" fill="#9a93c6" stroke="#1a1a1a" stroke-width="0.55"/>
<circle cx="371.60" cy="451.46" r="2.3" fill="#9a93c6" stroke="#1a1a1a" stroke-width="0.55"/>
<circle cx="377.30" cy="450.65" r="2.3" fill="#9a93c6" stroke="#1a1a1a" stroke-width="0.55"/>
<circle cx="383.01" cy="449.45" r="2.3" fill="#9a93c6" stroke="#1a1a1a" stroke-width="0.55"/>
<circle cx="391.57" cy="447.84" r="2.3" fill="#9a93c6" stroke="#1a1a1a" stroke-width="0.55"/>
<circle cx="397.27" cy="446.64" r="2.3" fill="#9a93c6" stroke="#1a1a1a" stroke-width="0.55"/>
<circle cx="402.98" cy="445.83" r="2.3" fill="#9a93c6" stroke="#1a1a1a" stroke-width="0.55"/>
<circle cx="411.54" cy="445.83" r="2.3" fill="#9a93c6" stroke="#1a1a1a" stroke-width="0.55"/>
<circle cx="417.24" cy="445.03" r="2.3" fill="#9a93c6" stroke="#1a1a1a" stroke-width="0.55"/>
<circle cx="422.95" cy="445.43" r="2.3" fill="#9a93c6" stroke="#1a1a1a" stroke-width="0.55"/>
<circle cx="431.51" cy="447.44" r="2.3" fill="#9a93c6" stroke="#1a1a1a" stroke-width="0.55"/>
<path d="M331.65,457.08L337.36,456.68L343.07,457.08L351.62,454.67L357.33,452.66L363.04,449.85L371.60,445.83L377.30,441.82L383.01,439.41L391.57,436.60L397.27,431.38L402.98,424.55" fill="none" stroke="#bdbdbd" stroke-width="0.9"/>
<line x1="331.65" y1="457.08" x2="331.65" y2="456.27" stroke="#444" stroke-width="0.7"/>
<line x1="330.35" y1="456.27" x2="332.95" y2="456.27" stroke="#444" stroke-width="0.7"/>
<line x1="337.36" y1="456.68" x2="337.36" y2="455.87" stroke="#444" stroke-width="0.7"/>
<line x1="336.06" y1="455.87" x2="338.66" y2="455.87" stroke="#444" stroke-width="0.7"/>
<line x1="343.07" y1="457.08" x2="343.07" y2="456.27" stroke="#444" stroke-width="0.7"/>
<line x1="341.77" y1="456.27" x2="344.37" y2="456.27" stroke="#444" stroke-width="0.7"/>
<line x1="351.62" y1="454.67" x2="351.62" y2="453.46" stroke="#444" stroke-width="0.7"/>
<line x1="350.32" y1="453.46" x2="352.93" y2="453.46" stroke="#444" stroke-width="0.7"/>
<line x1="357.33" y1="452.66" x2="357.33" y2="451.05" stroke="#444" stroke-width="0.7"/>
<line x1="356.03" y1="451.05" x2="358.63" y2="451.05" stroke="#444" stroke-width="0.7"/>
<line x1="363.04" y1="449.85" x2="363.04" y2="447.84" stroke="#444" stroke-width="0.7"/>
<line x1="361.74" y1="447.84" x2="364.34" y2="447.84" stroke="#444" stroke-width="0.7"/>
<line x1="371.60" y1="445.83" x2="371.60" y2="443.42" stroke="#444" stroke-width="0.7"/>
<line x1="370.30" y1="443.42" x2="372.90" y2="443.42" stroke="#444" stroke-width="0.7"/>
<line x1="377.30" y1="441.82" x2="377.30" y2="438.60" stroke="#444" stroke-width="0.7"/>
<line x1="376.00" y1="438.60" x2="378.60" y2="438.60" stroke="#444" stroke-width="0.7"/>
<line x1="383.01" y1="439.41" x2="383.01" y2="435.79" stroke="#444" stroke-width="0.7"/>
<line x1="381.71" y1="435.79" x2="384.31" y2="435.79" stroke="#444" stroke-width="0.7"/>
<line x1="391.57" y1="436.60" x2="391.57" y2="432.58" stroke="#444" stroke-width="0.7"/>
<line x1="390.27" y1="432.58" x2="392.87" y2="432.58" stroke="#444" stroke-width="0.7"/>
<line x1="397.27" y1="431.38" x2="397.27" y2="426.96" stroke="#444" stroke-width="0.7"/>
<line x1="395.97" y1="426.96" x2="398.57" y2="426.96" stroke="#444" stroke-width="0.7"/>
<line x1="402.98" y1="424.55" x2="402.98" y2="422.14" stroke="#444" stroke-width="0.7"/>
<line x1="401.68" y1="422.14" x2="404.28" y2="422.14" stroke="#444" stroke-width="0.7"/>
<circle cx="331.65" cy="457.08" r="2.3" fill="#d4d4d4" stroke="#333" stroke-width="0.9"/>
<circle cx="337.36" cy="456.68" r="2.3" fill="#d4d4d4" stroke="#333" stroke-width="0.9"/>
<circle cx="343.07" cy="457.08" r="2.3" fill="#d4d4d4" stroke="#333" stroke-width="0.9"/>
<circle cx="351.62" cy="454.67" r="2.3" fill="#d4d4d4" stroke="#333" stroke-width="0.9"/>
<circle cx="357.33" cy="452.66" r="2.3" fill="#d4d4d4" stroke="#333" stroke-width="0.9"/>
<circle cx="363.04" cy="449.85" r="2.3" fill="#d4d4d4" stroke="#333" stroke-width="0.9"/>
<circle cx="371.60" cy="445.83" r="2.3" fill="#d4d4d4" stroke="#333" stroke-width="0.9"/>
<circle cx="377.30" cy="441.82" r="2.3" fill="#d4d4d4" stroke="#333" stroke-width="0.9"/>
<circle cx="383.01" cy="439.41" r="2.3" fill="#d4d4d4" stroke="#333" stroke-width="0.9"/>
<circle cx="391.57" cy="436.60" r="2.3" fill="#d4d4d4" stroke="#333" stroke-width="0.9"/>
<circle cx="397.27" cy="431.38" r="2.3" fill="#d4d4d4" stroke="#333" stroke-width="0.9"/>
<circle cx="402.98" cy="424.55" r="2.3" fill="#d4d4d4" stroke="#333" stroke-width="0.9"/>
<line x1="440.40" y1="426.20" x2="440.40" y2="448.00" stroke="#333" stroke-width="0.8"/>
<text x="443.60" y="440.20" font-size="8.0" fill="#2b2b2b" stroke="#2b2b2b" textLength="5.6" lengthAdjust="spacingAndGlyphs">**</text>
<line x1="285.50" y1="374.20" x2="300.70" y2="374.20" stroke="#c0283c" stroke-width="1.0"/>
<circle cx="293.30" cy="374.20" r="2.5" fill="#7d1426" stroke="#1a1a1a" stroke-width="0.55"/>
<text x="304.60" y="376.60" font-size="6.7" fill="#2b2b2b" textLength="73.6" lengthAdjust="spacingAndGlyphs">Glofitamab monotherapy</text>
<line x1="285.50" y1="384.20" x2="300.70" y2="384.20" stroke="#1d4a6b" stroke-width="1.0"/>
<circle cx="293.30" cy="384.20" r="2.5" fill="#173e58" stroke="#1a1a1a" stroke-width="0.55"/>
<text x="304.60" y="386.60" font-size="6.7" fill="#2b2b2b" textLength="60.0" lengthAdjust="spacingAndGlyphs">Glofit. + CD19-CD28</text>
<text x="364.90" y="388.00" font-size="4.0" fill="#2b2b2b" textLength="10.6" lengthAdjust="spacingAndGlyphs">MED</text>
<line x1="285.50" y1="394.50" x2="300.70" y2="394.50" stroke="#8f8abf" stroke-width="1.0"/>
<circle cx="293.30" cy="394.50" r="2.5" fill="#9a93c6" stroke="#1a1a1a" stroke-width="0.55"/>
<text x="304.60" y="396.90" font-size="6.7" fill="#2b2b2b" textLength="60.0" lengthAdjust="spacingAndGlyphs">Glofit. + CD19-CD28</text>
<text x="364.90" y="398.30" font-size="4.0" fill="#2b2b2b" textLength="10.6" lengthAdjust="spacingAndGlyphs">LOW</text>
<line x1="285.50" y1="404.50" x2="300.70" y2="404.50" stroke="#c4c4c4" stroke-width="1.0"/>
<circle cx="293.30" cy="404.50" r="2.5" fill="#d4d4d4" stroke="#333" stroke-width="0.9"/>
<text x="304.60" y="406.90" font-size="6.7" fill="#2b2b2b" textLength="21.0" lengthAdjust="spacingAndGlyphs">Vehicle</text>
<defs>
<filter id="nz" x="0" y="0" width="100%" height="100%" color-interpolation-filters="sRGB">
 <feTurbulence type="fractalNoise" baseFrequency="0.5" numOctaves="2" seed="3" result="t0"/>
 <feGaussianBlur in="t0" stdDeviation="0.35" result="t"/>
 <feColorMatrix in="t" type="matrix" values="0 0 0 0 1  0 0 0 0 1  0 0 0 0 1  1.0 0 0 0 -0.45" result="w"/>
 <feComposite in="w" in2="SourceGraphic" operator="in" result="w2"/>
 <feColorMatrix in="t" type="matrix" values="0 0 0 0 0.40  0 0 0 0 0.50  0 0 0 0 0.76  0 -1.0 0 0 0.40" result="dk"/>
 <feComposite in="dk" in2="SourceGraphic" operator="in" result="dk2"/>
 <feTurbulence type="fractalNoise" baseFrequency="0.1" numOctaves="2" seed="11" result="u"/>
 <feColorMatrix in="u" type="matrix" values="0 0 0 0 0.48  0 0 0 0 0.57  0 0 0 0 0.80  0.7 0 0 0 -0.34" result="d"/>
 <feComposite in="d" in2="SourceGraphic" operator="in" result="d2"/>
 <feMerge><feMergeNode in="SourceGraphic"/><feMergeNode in="d2"/><feMergeNode in="dk2"/><feMergeNode in="w2"/></feMerge>
</filter>
<filter id="tis" x="-5%" y="-5%" width="110%" height="110%" color-interpolation-filters="sRGB">
 <feGaussianBlur in="SourceGraphic" stdDeviation="0.6" result="b"/>
 <feTurbulence type="fractalNoise" baseFrequency="0.3" numOctaves="2" seed="5" result="t0"/>
 <feColorMatrix in="t0" type="matrix" values="0 0 0 0 1  0 0 0 0 1  0 0 0 0 1  0.5 0 0 0 -0.22" result="w"/>
 <feComposite in="w" in2="b" operator="in" result="w2"/>
 <feMerge><feMergeNode in="b"/><feMergeNode in="w2"/></feMerge>
</filter>
<filter id="nzb" x="0" y="0" width="100%" height="100%" color-interpolation-filters="sRGB">
 <feTurbulence type="fractalNoise" baseFrequency="0.55" numOctaves="2" seed="21" result="hf0"/>
 <feGaussianBlur in="hf0" stdDeviation="0.3" result="hf"/>
 <feColorMatrix in="hf" type="matrix" values="0 0 0 0 0.58  0 0 0 0 0.48  0 0 0 0 0.50  2.6 0 0 0 -1.0" result="hb"/>
 <feTurbulence type="fractalNoise" baseFrequency="0.045" numOctaves="2" seed="4" result="lf"/>
 <feColorMatrix in="lf" type="matrix" values="0 0 0 0 1  0 0 0 0 1  0 0 0 0 1  3.0 0 0 0 -0.95" result="mask"/>
 <feComposite in="hb" in2="mask" operator="in" result="hbm"/>
 <feComposite in="hbm" in2="SourceGraphic" operator="in" result="hbm2"/>
 <feTurbulence type="fractalNoise" baseFrequency="0.5" numOctaves="2" seed="19" result="u0"/>
 <feGaussianBlur in="u0" stdDeviation="0.3" result="u"/>
 <feColorMatrix in="u" type="matrix" values="0 0 0 0 1  0 0 0 0 1  0 0 0 0 1  1.6 0 0 0 -0.68" result="wh"/>
 <feComposite in="wh" in2="mask" operator="in" result="whm"/>
 <feComposite in="whm" in2="SourceGraphic" operator="in" result="wh2"/>
 <feColorMatrix in="u" type="matrix" values="0 0 0 0 0.35  0 0 0 0 0.42  0 0 0 0 0.72  0 -1.0 0 0 0.42" result="dk"/>
 <feComposite in="dk" in2="SourceGraphic" operator="in" result="dk2"/>
 <feMerge><feMergeNode in="SourceGraphic"/><feMergeNode in="dk2"/><feMergeNode in="hbm2"/><feMergeNode in="wh2"/></feMerge>
</filter>
<filter id="soft" x="-30%" y="-30%" width="160%" height="160%"><feGaussianBlur stdDeviation="4"/></filter>
<linearGradient id="brg" x1="0" y1="0" x2="1" y2="0.3"><stop offset="0" stop-color="#a08c90" stop-opacity="0"/><stop offset="0.45" stop-color="#a08c90" stop-opacity="0.12"/><stop offset="1" stop-color="#a08c90" stop-opacity="0.25"/></linearGradient>
<clipPath id="t4clip"><path d="M346.10,548.60 C347.55,546.12 349.20,542.18 352.30,539.90 C355.40,537.62 360.15,536.15 364.70,534.90 C369.25,533.65 374.63,533.13 379.60,532.40 C384.57,531.67 389.95,530.50 394.50,530.50 C399.05,530.50 403.38,530.83 406.90,532.40 C410.42,533.97 413.53,536.58 415.60,539.90 C417.67,543.22 418.88,547.75 419.30,552.30 C419.72,556.85 418.92,562.23 418.10,567.20 C417.28,572.17 415.85,577.55 414.40,582.10 C412.95,586.65 411.88,591.40 409.40,594.50 C406.92,597.60 403.63,599.47 399.50,600.70 C395.37,601.93 389.57,602.12 384.60,601.90 C379.63,601.68 374.25,601.05 369.70,599.40 C365.15,597.75 361.02,595.30 357.30,592.00 C353.58,588.70 349.68,583.73 347.40,579.60 C345.12,575.47 344.23,571.33 343.60,567.20 C342.97,563.07 343.18,557.90 343.60,554.80 C344.02,551.70 344.65,551.08 346.10,548.60 Z"/></clipPath>
</defs>
<text x="78.70" y="521.90" font-size="8.6" fill="#2b2b2b" stroke="#2b2b2b" text-anchor="middle" textLength="27.3" lengthAdjust="spacingAndGlyphs">Vehicle</text>
<text x="182.30" y="511.50" font-size="8.6" fill="#2b2b2b" stroke="#2b2b2b" text-anchor="middle" textLength="43.4" lengthAdjust="spacingAndGlyphs">Glofitamab</text>
<text x="181.10" y="521.50" font-size="8.6" fill="#c8203c" stroke="#c8203c" text-anchor="middle" textLength="51.6" lengthAdjust="spacingAndGlyphs">monotherapy</text>
<text x="282.50" y="511.40" font-size="8.6" fill="#2b2b2b" stroke="#2b2b2b" text-anchor="middle" textLength="50.9" lengthAdjust="spacingAndGlyphs">Glofitamab +</text>
<text x="252.00" y="521.30" font-size="8.6" fill="#2f5f8e" stroke="#2f5f8e" textLength="46.5" lengthAdjust="spacingAndGlyphs">CD19-CD28</text>
<text x="299.10" y="524.20" font-size="6.0" fill="#2f5f8e" textLength="14.2" lengthAdjust="spacingAndGlyphs">MED</text>
<text x="384.20" y="511.40" font-size="8.6" fill="#2b2b2b" stroke="#2b2b2b" text-anchor="middle" textLength="50.0" lengthAdjust="spacingAndGlyphs">Glofitamab +</text>
<text x="354.00" y="521.30" font-size="8.6" fill="#9f9ccd" stroke="#9f9ccd" textLength="47.1" lengthAdjust="spacingAndGlyphs">CD19-CD28</text>
<text x="401.50" y="524.20" font-size="6.0" fill="#9f9ccd" textLength="14.5" lengthAdjust="spacingAndGlyphs">LOW</text>
<text transform="translate(20.21,611.50) rotate(-90)" font-size="6.6" fill="#2b2b2b" text-anchor="middle" textLength="38.3" lengthAdjust="spacingAndGlyphs">Tumor tissue</text>
<rect x="26" y="527" width="413.6" height="86.5" fill="#8a8a8a"/>
<rect x="27" y="528" width="100.0" height="84.3" fill="#eaeaea"/>
<rect x="130.1" y="528" width="102.1" height="84.3" fill="#eaeaea"/>
<rect x="233.9" y="528" width="100.0" height="84.3" fill="#eaeaea"/>
<rect x="336.6" y="528" width="103.0" height="84.3" fill="#eaeaea"/>
<rect x="232.2" y="528" width="1.7" height="85" fill="#3c3c3c"/>
<rect x="26" y="527" width="413.6" height="1" fill="#666"/>
<rect x="26" y="527" width="1" height="86" fill="#555"/>
<path d="M29.90,575.20 C30.23,573.08 30.58,570.20 31.90,568.40 C33.22,566.60 35.18,565.55 37.80,564.40 C40.42,563.25 44.33,562.63 47.60,561.50 C50.87,560.37 54.13,558.90 57.40,557.60 C60.67,556.30 63.93,554.85 67.20,553.70 C70.47,552.55 73.40,551.30 77.00,550.70 C80.60,550.10 84.88,549.77 88.80,550.10 C92.72,550.43 97.23,551.45 100.50,552.70 C103.77,553.95 105.93,555.65 108.40,557.60 C110.87,559.55 113.67,561.78 115.30,564.40 C116.93,567.02 118.05,570.52 118.20,573.30 C118.35,576.08 117.18,578.82 116.20,581.10 C115.22,583.38 113.60,585.85 112.30,587.00 C111.00,588.15 109.87,588.65 108.40,588.00 C106.93,587.35 105.13,584.73 103.50,583.10 C101.87,581.47 100.73,579.52 98.60,578.20 C96.47,576.88 93.32,575.85 90.70,575.20 C88.08,574.55 85.52,574.78 82.90,574.30 C80.28,573.82 77.62,572.30 75.00,572.30 C72.38,572.30 69.48,573.48 67.20,574.30 C64.92,575.12 62.93,575.73 61.30,577.20 C59.67,578.67 58.70,581.13 57.40,583.10 C56.10,585.07 55.13,587.53 53.50,589.00 C51.87,590.47 49.90,591.42 47.60,591.90 C45.30,592.38 42.00,592.72 39.70,591.90 C37.40,591.08 35.43,588.80 33.80,587.00 C32.17,585.20 30.55,583.07 29.90,581.10 C29.25,579.13 29.57,577.32 29.90,575.20 Z" fill="rgb(174,188,229)" filter="url(#tis)"/>
<path d="M80.50,559.80 C81.33,559.30 83.78,559.12 86.00,559.20 C88.22,559.28 92.30,559.78 93.80,560.30 C95.30,560.82 95.97,561.92 95.00,562.30 C94.03,562.68 90.33,562.62 88.00,562.60 C85.67,562.58 82.25,562.67 81.00,562.20 C79.75,561.73 79.67,560.30 80.50,559.80 Z" fill="#eaeaea"/>
<path d="M90.70,566.40 C92.65,565.67 94.63,563.85 96.60,564.50 C98.57,565.15 101.10,568.18 102.50,570.30 C103.90,572.42 104.83,575.40 105.00,577.20 C105.17,579.00 104.40,581.27 103.50,581.10 C102.60,580.93 101.23,577.67 99.60,576.20 C97.97,574.73 95.83,573.12 93.70,572.30 C91.57,571.48 88.27,571.87 86.80,571.30 C85.33,570.73 84.25,569.72 84.90,568.90 C85.55,568.08 88.75,567.13 90.70,566.40 Z" fill="#eaeaea"/>
<path d="M132.00,573.30 C132.17,570.20 132.77,566.45 133.90,563.50 C135.03,560.55 136.50,557.90 138.80,555.60 C141.10,553.30 143.93,551.33 147.70,549.70 C151.47,548.07 156.18,546.78 161.40,545.80 C166.62,544.82 173.12,543.63 179.00,543.80 C184.88,543.97 191.78,545.15 196.70,546.80 C201.62,548.45 205.40,551.08 208.50,553.70 C211.60,556.32 214.00,559.57 215.30,562.50 C216.60,565.43 216.78,568.20 216.30,571.30 C215.82,574.40 214.37,578.15 212.40,581.10 C210.43,584.05 207.45,587.03 204.50,589.00 C201.55,590.97 198.62,592.08 194.70,592.90 C190.78,593.72 185.90,594.07 181.00,593.90 C176.10,593.73 170.53,592.55 165.30,591.90 C160.07,591.25 154.18,590.82 149.60,590.00 C145.02,589.18 140.58,588.32 137.80,587.00 C135.02,585.68 133.87,584.38 132.90,582.10 C131.93,579.82 131.83,576.40 132.00,573.30 Z" fill="rgb(174,188,229)" filter="url(#tis)"/>
<path d="M246.70,565.40 C247.03,562.78 247.38,559.72 248.70,557.60 C250.02,555.48 251.98,553.68 254.60,552.70 C257.22,551.72 261.78,552.68 264.40,551.70 C267.02,550.72 267.68,548.27 270.30,546.80 C272.92,545.33 276.52,543.72 280.10,542.90 C283.68,542.08 288.20,541.58 291.80,541.90 C295.40,542.22 298.75,543.17 301.70,544.80 C304.65,546.43 307.55,548.92 309.50,551.70 C311.45,554.48 312.92,558.23 313.40,561.50 C313.88,564.77 313.38,568.68 312.40,571.30 C311.42,573.92 309.62,575.73 307.50,577.20 C305.38,578.67 302.32,579.28 299.70,580.10 C297.08,580.92 293.77,580.95 291.80,582.10 C289.83,583.25 289.53,585.20 287.90,587.00 C286.27,588.80 284.62,591.60 282.00,592.90 C279.38,594.20 275.47,594.48 272.20,594.80 C268.93,595.12 265.33,595.28 262.40,594.80 C259.47,594.32 256.88,593.85 254.60,591.90 C252.32,589.95 250.02,586.20 248.70,583.10 C247.38,580.00 247.03,576.25 246.70,573.30 C246.37,570.35 246.37,568.02 246.70,565.40 Z" fill="rgb(174,188,229)" filter="url(#tis)"/>
<path d="M272.2,561.5 L280,564.4 L291.5,555 M280,564.4 L282,575 M260.5,573.3 L266.3,585" fill="none" stroke="#e0e4f0" stroke-width="1.8" stroke-linecap="round"/>
<path d="M346.10,548.60 C347.55,546.12 349.20,542.18 352.30,539.90 C355.40,537.62 360.15,536.15 364.70,534.90 C369.25,533.65 374.63,533.13 379.60,532.40 C384.57,531.67 389.95,530.50 394.50,530.50 C399.05,530.50 403.38,530.83 406.90,532.40 C410.42,533.97 413.53,536.58 415.60,539.90 C417.67,543.22 418.88,547.75 419.30,552.30 C419.72,556.85 418.92,562.23 418.10,567.20 C417.28,572.17 415.85,577.55 414.40,582.10 C412.95,586.65 411.88,591.40 409.40,594.50 C406.92,597.60 403.63,599.47 399.50,600.70 C395.37,601.93 389.57,602.12 384.60,601.90 C379.63,601.68 374.25,601.05 369.70,599.40 C365.15,597.75 361.02,595.30 357.30,592.00 C353.58,588.70 349.68,583.73 347.40,579.60 C345.12,575.47 344.23,571.33 343.60,567.20 C342.97,563.07 343.18,557.90 343.60,554.80 C344.02,551.70 344.65,551.08 346.10,548.60 Z" fill="rgb(206,204,219)" filter="url(#tis)"/>
<g clip-path="url(#t4clip)">
<ellipse cx="361" cy="553" rx="17" ry="15" fill="rgb(155,170,218)" opacity="0.42" filter="url(#soft)"/>
</g>
<rect x="26.5" y="613.5" width="100.6" height="83" fill="rgb(172,190,229)" filter="url(#nz)"/>
<rect x="131.2" y="613.5" width="99.4" height="83" fill="rgb(172,190,229)" filter="url(#nz)"/>
<rect x="234.2" y="613.5" width="99.7" height="83" fill="rgb(178,194,231)" filter="url(#nz)"/>
<rect x="336.2" y="613.5" width="103.4" height="83" fill="rgb(150,167,218)" filter="url(#nzb)"/>
<path d="M318.0,698.0 L336.0,676.0 L336.0,698.0 Z" fill="#e9e9ee"/>
<circle cx="283.5" cy="674.4" r="4.6" fill="#eef0f6"/>
<path d="M303,676 L309,666 L313,662" fill="none" stroke="#e4e8f4" stroke-width="2.5" stroke-linecap="round"/>
<rect x="336.2" y="613.5" width="103.4" height="83" fill="url(#brg)"/>
<rect x="26" y="612.3" width="413.6" height="1.4" fill="#555"/>
<line x1="26.60" y1="613.70" x2="26.60" y2="697.00" stroke="#4a4a4a" stroke-width="1.1" stroke-dasharray="1.9,1.95"/>
<rect x="127.1" y="613.7" width="4.1" height="83" fill="#fafafa"/>
<line x1="128.12" y1="613.70" x2="128.12" y2="697.00" stroke="#4a4a4a" stroke-width="2.049999999999983" stroke-dasharray="1.93,1.93"/>
<line x1="130.17" y1="613.70" x2="130.17" y2="697.00" stroke="#4a4a4a" stroke-width="2.0500000000000114" stroke-dasharray="1.93,1.93" stroke-dashoffset="1.93"/>
<rect x="230.6" y="613.7" width="3.6" height="83" fill="#fafafa"/>
<line x1="231.50" y1="613.70" x2="231.50" y2="697.00" stroke="#4a4a4a" stroke-width="1.799999999999983" stroke-dasharray="1.93,1.93"/>
<line x1="233.30" y1="613.70" x2="233.30" y2="697.00" stroke="#4a4a4a" stroke-width="1.8000000000000114" stroke-dasharray="1.93,1.93" stroke-dashoffset="1.93"/>
<rect x="333.9" y="613.7" width="2.3" height="83" fill="#fafafa"/>
<line x1="334.47" y1="613.70" x2="334.47" y2="697.00" stroke="#4a4a4a" stroke-width="1.1499999999999773" stroke-dasharray="1.93,1.93"/>
<line x1="335.62" y1="613.70" x2="335.62" y2="697.00" stroke="#4a4a4a" stroke-width="1.150000000000034" stroke-dasharray="1.93,1.93" stroke-dashoffset="1.93"/>
<circle cx="57" cy="571.0999999999999" r="1.5" fill="none" stroke="#333" stroke-width="0.5" stroke-dasharray="0.8,0.6"/>
<line x1="57.00" y1="572.30" x2="57.00" y2="614.50" stroke="#1a1a1a" stroke-width="0.8"/>
<path d="M55.1,613.2 L58.9,613.2 L57,617.6 Z" fill="#1a1a1a"/>
<circle cx="176.5" cy="590.6999999999999" r="1.5" fill="none" stroke="#333" stroke-width="0.5" stroke-dasharray="0.8,0.6"/>
<line x1="176.50" y1="591.90" x2="176.50" y2="614.50" stroke="#1a1a1a" stroke-width="0.8"/>
<path d="M174.6,613.2 L178.4,613.2 L176.5,617.6 Z" fill="#1a1a1a"/>
<circle cx="302" cy="579.5" r="1.5" fill="none" stroke="#333" stroke-width="0.5" stroke-dasharray="0.8,0.6"/>
<line x1="302.00" y1="580.70" x2="302.00" y2="614.50" stroke="#1a1a1a" stroke-width="0.8"/>
<path d="M300.1,613.2 L303.9,613.2 L302,617.6 Z" fill="#1a1a1a"/>
<circle cx="372.4" cy="549.3" r="1.5" fill="none" stroke="#333" stroke-width="0.5" stroke-dasharray="0.8,0.6"/>
<line x1="372.40" y1="550.50" x2="372.40" y2="614.50" stroke="#1a1a1a" stroke-width="0.8"/>
<path d="M370.5,613.2 L374.29999999999995,613.2 L372.4,617.6 Z" fill="#1a1a1a"/>
<rect x="27" y="527.5" width="19" height="8.5" fill="#000"/>
<text x="36.50" y="534.00" font-size="6.2" fill="#fff" text-anchor="middle" textLength="8.1" lengthAdjust="spacingAndGlyphs">A4</text>
<rect x="130.1" y="527.5" width="19" height="8.5" fill="#000"/>
<text x="139.60" y="534.00" font-size="6.2" fill="#fff" text-anchor="middle" textLength="8.1" lengthAdjust="spacingAndGlyphs">B4</text>
<rect x="233.9" y="527.5" width="19" height="8.5" fill="#000"/>
<text x="243.40" y="534.00" font-size="6.2" fill="#fff" text-anchor="middle" textLength="8.1" lengthAdjust="spacingAndGlyphs">F3</text>
<rect x="336.6" y="527.5" width="19" height="8.5" fill="#000"/>
<text x="346.10" y="534.00" font-size="6.2" fill="#fff" text-anchor="middle" textLength="8.1" lengthAdjust="spacingAndGlyphs">G3</text>
<text x="28.50" y="608.20" font-size="6.5" fill="#2b2b2b" textLength="15.8" lengthAdjust="spacingAndGlyphs">2 mm</text>
<line x1="28.20" y1="610.10" x2="40.80" y2="610.10" stroke="#222" stroke-width="0.9"/>
<text x="124.00" y="608.40" font-size="6.5" fill="#2b2b2b" text-anchor="end" textLength="7.3" lengthAdjust="spacingAndGlyphs">2x</text>
<text x="29.50" y="691.90" font-size="6.5" fill="#2b2b2b" textLength="18.1" lengthAdjust="spacingAndGlyphs">50 µm</text>
<line x1="28.10" y1="693.80" x2="39.00" y2="693.80" stroke="#222" stroke-width="0.9"/>
<text x="124.10" y="691.90" font-size="6.5" fill="#2b2b2b" text-anchor="end" textLength="11.0" lengthAdjust="spacingAndGlyphs">20x</text>
<text x="131.60" y="608.20" font-size="6.5" fill="#2b2b2b" textLength="15.8" lengthAdjust="spacingAndGlyphs">2 mm</text>
<line x1="131.30" y1="610.10" x2="143.90" y2="610.10" stroke="#222" stroke-width="0.9"/>
<text x="229.20" y="608.40" font-size="6.5" fill="#2b2b2b" text-anchor="end" textLength="7.3" lengthAdjust="spacingAndGlyphs">2x</text>
<text x="134.20" y="691.90" font-size="6.5" fill="#2b2b2b" textLength="18.1" lengthAdjust="spacingAndGlyphs">50 µm</text>
<line x1="132.80" y1="693.80" x2="143.70" y2="693.80" stroke="#222" stroke-width="0.9"/>
<text x="227.60" y="691.90" font-size="6.5" fill="#2b2b2b" text-anchor="end" textLength="11.0" lengthAdjust="spacingAndGlyphs">20x</text>
<text x="235.40" y="608.20" font-size="6.5" fill="#2b2b2b" textLength="15.8" lengthAdjust="spacingAndGlyphs">2 mm</text>
<line x1="235.10" y1="610.10" x2="247.70" y2="610.10" stroke="#222" stroke-width="0.9"/>
<text x="330.90" y="608.40" font-size="6.5" fill="#2b2b2b" text-anchor="end" textLength="7.3" lengthAdjust="spacingAndGlyphs">2x</text>
<text x="237.20" y="691.90" font-size="6.5" fill="#2b2b2b" textLength="18.1" lengthAdjust="spacingAndGlyphs">50 µm</text>
<line x1="235.80" y1="693.80" x2="246.70" y2="693.80" stroke="#222" stroke-width="0.9"/>
<text x="330.90" y="691.90" font-size="6.5" fill="#2b2b2b" text-anchor="end" textLength="11.0" lengthAdjust="spacingAndGlyphs">20x</text>
<text x="338.10" y="608.20" font-size="6.5" fill="#2b2b2b" textLength="21.8" lengthAdjust="spacingAndGlyphs">500 µm</text>
<line x1="337.80" y1="610.10" x2="351.60" y2="610.10" stroke="#222" stroke-width="0.9"/>
<text x="436.60" y="608.40" font-size="6.5" fill="#2b2b2b" text-anchor="end" textLength="7.3" lengthAdjust="spacingAndGlyphs">2x</text>
<text x="339.20" y="691.90" font-size="6.5" fill="#2b2b2b" textLength="18.1" lengthAdjust="spacingAndGlyphs">50 µm</text>
<line x1="337.80" y1="693.80" x2="348.70" y2="693.80" stroke="#222" stroke-width="0.9"/>
<text x="436.60" y="691.90" font-size="6.5" fill="#2b2b2b" text-anchor="end" textLength="11.0" lengthAdjust="spacingAndGlyphs">20x</text>
<rect x="336.8" y="614.2" width="34" height="10.8" fill="#fff"/>
<text x="343.00" y="622.40" font-size="6.4" fill="#d98a56" textLength="20.5" lengthAdjust="spacingAndGlyphs">huCD8</text>
<rect x="0.5" y="0.5" width="519" height="703" fill="none" stroke="#4d4d4d" stroke-width="1"/>
</svg>
</body></html>
